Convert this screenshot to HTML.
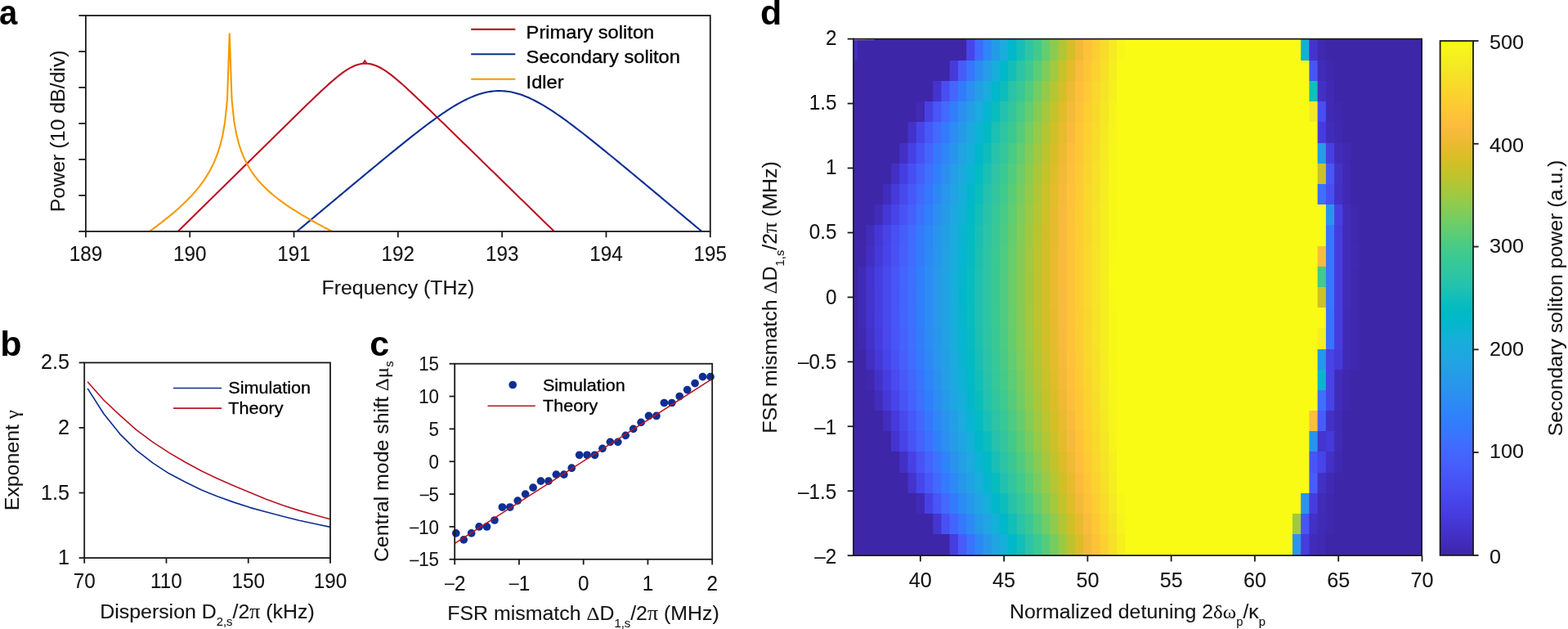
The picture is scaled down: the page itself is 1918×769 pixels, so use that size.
<!DOCTYPE html>
<html lang="en">
<head>
<meta charset="utf-8">
<title>Figure</title>
<style>
html,body{margin:0;padding:0;background:#fff;}
body{width:1918px;height:769px;overflow:hidden;}
svg{display:block;}
svg text{font-family:"Liberation Sans", "DejaVu Sans", sans-serif;fill:#141414;stroke:#141414;stroke-width:0.1px;}
</style>
</head>
<body>
<svg width="1918" height="769" viewBox="0 0 1918 769">
<rect width="1918" height="769" fill="#ffffff"/>
<text transform="translate(-1 29.6) scale(0.930 1)" font-size="43" text-anchor="start" font-weight="bold" style="stroke:none;fill:#000">a</text>
<text transform="translate(0.2 435.3) scale(1.000 1)" font-size="43" text-anchor="start" font-weight="bold" style="stroke:none;fill:#000">b</text>
<text transform="translate(452.3 435.3) scale(1.000 1)" font-size="43" text-anchor="start" font-weight="bold" style="stroke:none;fill:#000">c</text>
<text transform="translate(930 30) scale(1.000 1)" font-size="43" text-anchor="start" font-weight="bold" style="stroke:none;fill:#000">d</text>
<clipPath id="ca"><rect x="104.9" y="19" width="763.9" height="263.9"/></clipPath>
<g clip-path="url(#ca)">
<path d="M200 300.27 L202.8 297.52 L205.6 294.77 L208.4 292.01 L211.2 289.26 L214 286.51 L216.8 283.76 L219.6 281 L222.4 278.25 L225.2 275.5 L228 272.75 L230.8 269.99 L233.6 267.24 L236.4 264.49 L239.2 261.74 L242 258.98 L244.8 256.23 L247.6 253.48 L250.4 250.73 L253.2 247.98 L256 245.22 L258.8 242.47 L261.6 239.72 L264.4 236.97 L267.2 234.21 L270 231.46 L272.8 228.71 L275.6 225.96 L278.4 223.2 L281.2 220.45 L284 217.7 L286.8 214.95 L289.6 212.19 L292.4 209.44 L295.2 206.69 L298 203.94 L300.8 201.19 L303.6 198.43 L306.4 195.68 L309.2 192.93 L312 190.18 L314.8 187.43 L317.6 184.67 L320.4 181.92 L323.2 179.17 L326 176.42 L328.8 173.67 L331.6 170.92 L334.4 168.17 L337.2 165.42 L340 162.67 L342.8 159.92 L345.6 157.18 L348.4 154.43 L351.2 151.68 L354 148.94 L356.8 146.2 L359.6 143.46 L362.4 140.72 L365.2 137.99 L368 135.26 L370.8 132.54 L373.6 129.82 L376.4 127.11 L379.2 124.4 L382 121.71 L384.8 119.03 L387.6 116.37 L390.4 113.72 L393.2 111.09 L396 108.49 L398.8 105.93 L401.6 103.39 L404.4 100.91 L407.2 98.47 L410 96.1 L412.8 93.8 L415.6 91.58 L418.4 89.47 L421.2 87.47 L424 85.6 L426.8 83.89 L429.6 82.34 L432.4 80.98 L435.2 79.83 L438 78.9 L440.8 78.22 L443.6 77.78 L446.4 77.6 L449.2 77.69 L452 78.03 L454.8 78.62 L457.6 79.46 L460.4 80.52 L463.2 81.8 L466 83.27 L468.8 84.91 L471.6 86.71 L474.4 88.65 L477.2 90.71 L480 92.87 L482.8 95.12 L485.6 97.45 L488.4 99.85 L491.2 102.3 L494 104.79 L496.8 107.33 L499.6 109.9 L502.4 112.49 L505.2 115.11 L508 117.75 L510.8 120.4 L513.6 123.07 L516.4 125.75 L519.2 128.43 L522 131.13 L524.8 133.83 L527.6 136.53 L530.4 139.24 L533.2 141.95 L536 144.67 L538.8 147.39 L541.6 150.11 L544.4 152.83 L547.2 155.55 L550 158.28 L552.8 161 L555.6 163.73 L558.4 166.46 L561.2 169.19 L564 171.91 L566.8 174.64 L569.6 177.37 L572.4 180.1 L575.2 182.83 L578 185.56 L580.8 188.29 L583.6 191.02 L586.4 193.75 L589.2 196.48 L592 199.2 L594.8 201.93 L597.6 204.66 L600.4 207.39 L603.2 210.12 L606 212.85 L608.8 215.58 L611.6 218.31 L614.4 221.04 L617.2 223.77 L620 226.5 L622.8 229.23 L625.6 231.96 L628.4 234.69 L631.2 237.42 L634 240.15 L636.8 242.88 L639.6 245.61 L642.4 248.34 L645.2 251.07 L648 253.8 L650.8 256.53 L653.6 259.26 L656.4 261.99 L659.2 264.72 L662 267.45 L664.8 270.18 L667.6 272.91 L670.4 275.64 L673.2 278.37 L676 281.1 L678.8 283.83 L681.6 286.56 L684.4 289.29 L687.2 292.02 L690 294.75 L692.8 297.48 L695.6 300.21 L698.4 302.94" stroke="#b91424" stroke-width="2.1" fill="none" stroke-linecap="butt" />
<path d="M443.7 77.9 L446.3 74 L448.9 77.9" stroke="#b91424" stroke-width="1.8" fill="none" stroke-linecap="butt" stroke-linejoin="miter"/>
<path d="M340 302.38 L342.8 300.03 L345.6 297.69 L348.4 295.35 L351.2 293.01 L354 290.66 L356.8 288.32 L359.6 285.98 L362.4 283.64 L365.2 281.29 L368 278.95 L370.8 276.61 L373.6 274.27 L376.4 271.93 L379.2 269.58 L382 267.24 L384.8 264.9 L387.6 262.56 L390.4 260.22 L393.2 257.88 L396 255.54 L398.8 253.2 L401.6 250.86 L404.4 248.53 L407.2 246.19 L410 243.85 L412.8 241.51 L415.6 239.18 L418.4 236.84 L421.2 234.51 L424 232.17 L426.8 229.84 L429.6 227.51 L432.4 225.18 L435.2 222.85 L438 220.52 L440.8 218.19 L443.6 215.87 L446.4 213.55 L449.2 211.22 L452 208.9 L454.8 206.59 L457.6 204.27 L460.4 201.96 L463.2 199.65 L466 197.35 L468.8 195.05 L471.6 192.75 L474.4 190.46 L477.2 188.17 L480 185.89 L482.8 183.61 L485.6 181.34 L488.4 179.07 L491.2 176.82 L494 174.57 L496.8 172.33 L499.6 170.1 L502.4 167.88 L505.2 165.67 L508 163.48 L510.8 161.3 L513.6 159.13 L516.4 156.98 L519.2 154.85 L522 152.74 L524.8 150.65 L527.6 148.58 L530.4 146.54 L533.2 144.52 L536 142.53 L538.8 140.58 L541.6 138.66 L544.4 136.77 L547.2 134.92 L550 133.12 L552.8 131.36 L555.6 129.65 L558.4 127.99 L561.2 126.39 L564 124.85 L566.8 123.37 L569.6 121.95 L572.4 120.61 L575.2 119.34 L578 118.15 L580.8 117.04 L583.6 116.02 L586.4 115.08 L589.2 114.24 L592 113.49 L594.8 112.84 L597.6 112.29 L600.4 111.84 L603.2 111.5 L606 111.26 L608.8 111.13 L611.6 111.1 L614.4 111.19 L617.2 111.38 L620 111.68 L622.8 112.08 L625.6 112.59 L628.4 113.2 L631.2 113.9 L634 114.71 L636.8 115.6 L639.6 116.59 L642.4 117.66 L645.2 118.82 L648 120.06 L650.8 121.37 L653.6 122.75 L656.4 124.21 L659.2 125.72 L662 127.3 L664.8 128.94 L667.6 130.62 L670.4 132.36 L673.2 134.15 L676 135.97 L678.8 137.84 L681.6 139.75 L684.4 141.69 L687.2 143.67 L690 145.67 L692.8 147.7 L695.6 149.76 L698.4 151.84 L701.2 153.94 L704 156.07 L706.8 158.21 L709.6 160.37 L712.4 162.54 L715.2 164.73 L718 166.93 L720.8 169.15 L723.6 171.37 L726.4 173.61 L729.2 175.85 L732 178.11 L734.8 180.37 L737.6 182.63 L740.4 184.91 L743.2 187.19 L746 189.48 L748.8 191.77 L751.6 194.06 L754.4 196.36 L757.2 198.67 L760 200.97 L762.8 203.28 L765.6 205.6 L768.4 207.91 L771.2 210.23 L774 212.55 L776.8 214.87 L779.6 217.2 L782.4 219.52 L785.2 221.85 L788 224.18 L790.8 226.51 L793.6 228.84 L796.4 231.17 L799.2 233.51 L802 235.84 L804.8 238.18 L807.6 240.51 L810.4 242.85 L813.2 245.19 L816 247.52 L818.8 249.86 L821.6 252.2 L824.4 254.54 L827.2 256.88 L830 259.22 L832.8 261.56 L835.6 263.9 L838.4 266.24 L841.2 268.58 L844 270.92 L846.8 273.26 L849.6 275.61 L852.4 277.95 L855.2 280.29 L858 282.63 L860.8 284.97 L863.6 287.32 L866.4 289.66 L869.2 292 L872 294.34 L874.8 296.69 L877.6 299.03" stroke="#0d2f92" stroke-width="2.1" fill="none" stroke-linecap="butt" />
<path d="M177.16 287.04 L179.96 285.03 L182.76 283.01 L185.56 280.97 L188.36 278.9 L191.16 276.82 L193.96 274.7 L196.76 272.56 L199.56 270.39 L202.36 268.19 L205.16 265.94 L207.96 263.66 L210.76 261.33 L213.56 258.96 L216.36 256.53 L219.16 254.03 L221.96 251.48 L224.76 248.84 L227.56 246.12 L230.36 243.31 L233.16 240.4 L235.96 237.36 L238.76 234.18 L241.56 230.85 L244.36 227.33 L247.16 223.6 L249.96 219.62 L252.76 215.33 L255.56 210.67 L258.36 205.55 L261.16 199.84 L263.96 193.35 L266.76 185.81 L269.56 176.72 L272.36 165.19 L275.16 149.2 L277.96 122.43 L280.76 40.6 L283.56 122.03 L286.36 148.4 L289.16 163.98 L291.96 175.11 L294.76 183.79 L297.56 190.92 L300.36 197 L303.16 202.3 L305.96 207.01 L308.76 211.26 L311.56 215.13 L314.36 218.7 L317.16 222.01 L319.96 225.11 L322.76 228.02 L325.56 230.77 L328.36 233.39 L331.16 235.88 L333.96 238.27 L336.76 240.55 L339.56 242.76 L342.36 244.89 L345.16 246.95 L347.96 248.94 L350.76 250.89 L353.56 252.78 L356.36 254.62 L359.16 256.43 L361.96 258.19 L364.76 259.92 L367.56 261.62 L370.36 263.29 L373.16 264.93 L375.96 266.55 L378.76 268.14 L381.56 269.72 L384.36 271.27 L387.16 272.81 L389.96 274.33 L392.76 275.84 L395.56 277.33 L398.36 278.81 L401.16 280.28 L403.96 281.74 L406.76 283.19 L409.56 284.63" stroke="#f59a00" stroke-width="2.1" fill="none" stroke-linecap="butt" stroke-linejoin="bevel"/>
</g>
<rect x="104.9" y="19" width="763.9" height="263.9" fill="none" stroke="#1a1a1a" stroke-width="1.8"/>
<line x1="96.3" y1="19" x2="104.9" y2="19" stroke="#1a1a1a" stroke-width="1.8" />
<line x1="96.3" y1="62.98" x2="104.9" y2="62.98" stroke="#1a1a1a" stroke-width="1.8" />
<line x1="96.3" y1="106.97" x2="104.9" y2="106.97" stroke="#1a1a1a" stroke-width="1.8" />
<line x1="96.3" y1="150.95" x2="104.9" y2="150.95" stroke="#1a1a1a" stroke-width="1.8" />
<line x1="96.3" y1="194.93" x2="104.9" y2="194.93" stroke="#1a1a1a" stroke-width="1.8" />
<line x1="96.3" y1="238.92" x2="104.9" y2="238.92" stroke="#1a1a1a" stroke-width="1.8" />
<line x1="96.3" y1="282.9" x2="104.9" y2="282.9" stroke="#1a1a1a" stroke-width="1.8" />
<line x1="104.9" y1="282.9" x2="104.9" y2="290.2" stroke="#1a1a1a" stroke-width="1.8" />
<text transform="translate(104.9 319.1) scale(0.976 1)" font-size="24.9" text-anchor="middle" font-weight="normal" >189</text>
<line x1="232.22" y1="282.9" x2="232.22" y2="290.2" stroke="#1a1a1a" stroke-width="1.8" />
<text transform="translate(232.22 319.1) scale(0.976 1)" font-size="24.9" text-anchor="middle" font-weight="normal" >190</text>
<line x1="359.53" y1="282.9" x2="359.53" y2="290.2" stroke="#1a1a1a" stroke-width="1.8" />
<text transform="translate(359.53 319.1) scale(0.976 1)" font-size="24.9" text-anchor="middle" font-weight="normal" >191</text>
<line x1="486.85" y1="282.9" x2="486.85" y2="290.2" stroke="#1a1a1a" stroke-width="1.8" />
<text transform="translate(486.85 319.1) scale(0.976 1)" font-size="24.9" text-anchor="middle" font-weight="normal" >192</text>
<line x1="614.17" y1="282.9" x2="614.17" y2="290.2" stroke="#1a1a1a" stroke-width="1.8" />
<text transform="translate(614.17 319.1) scale(0.976 1)" font-size="24.9" text-anchor="middle" font-weight="normal" >193</text>
<line x1="741.48" y1="282.9" x2="741.48" y2="290.2" stroke="#1a1a1a" stroke-width="1.8" />
<text transform="translate(741.48 319.1) scale(0.976 1)" font-size="24.9" text-anchor="middle" font-weight="normal" >194</text>
<line x1="868.8" y1="282.9" x2="868.8" y2="290.2" stroke="#1a1a1a" stroke-width="1.8" />
<text transform="translate(868.8 319.1) scale(0.976 1)" font-size="24.9" text-anchor="middle" font-weight="normal" >195</text>
<text transform="translate(486.85 359.7) scale(1.060 1)" font-size="23.5" text-anchor="middle" font-weight="normal" >Frequency (THz)</text>
<text transform="translate(78.5 160.3) rotate(-90) scale(1.060 1)" font-size="23.5" text-anchor="middle" font-weight="normal" >Power (10 dB/div)</text>
<line x1="576.2" y1="35.9" x2="630.3" y2="35.9" stroke="#b91424" stroke-width="2.1" />
<text transform="translate(643.6 46.9) scale(1.113 1)" font-size="21.3" text-anchor="start" font-weight="normal" style="stroke-width:0.3px;fill:#000;stroke:#000">Primary soliton</text>
<line x1="576.2" y1="66.3" x2="630.3" y2="66.3" stroke="#0d2f92" stroke-width="2.1" />
<text transform="translate(643.6 77.3) scale(1.113 1)" font-size="21.3" text-anchor="start" font-weight="normal" style="stroke-width:0.3px;fill:#000;stroke:#000">Secondary soliton</text>
<line x1="576.2" y1="96.7" x2="630.3" y2="96.7" stroke="#f59a00" stroke-width="2.1" />
<text transform="translate(643.6 107.7) scale(1.113 1)" font-size="21.3" text-anchor="start" font-weight="normal" style="stroke-width:0.3px;fill:#000;stroke:#000">Idler</text>
<path d="M107.1 474.9 L127 505.98 L146.9 530.8 L166.8 550.31 L186.7 565.9 L206.6 578.84 L226.5 589.28 L246.4 598.95 L266.3 606.99 L286.2 614.13 L306.1 620.58 L326 626.02 L345.9 631.27 L365.8 636.25 L385.7 640.56 L404 644.4" stroke="#0d2f92" stroke-width="1.65" fill="none" stroke-linecap="butt" stroke-linejoin="round"/>
<path d="M107.1 466.8 L127 489.25 L146.9 507.9 L166.8 525.6 L186.7 540.4 L206.6 553.34 L226.5 565.01 L246.4 575.78 L266.3 585.33 L286.2 594.03 L306.1 602.29 L326 610.41 L345.9 617.82 L365.8 624.1 L385.7 629.68 L404 634.8" stroke="#b91424" stroke-width="1.65" fill="none" stroke-linecap="butt" stroke-linejoin="round"/>
<rect x="103.2" y="443.4" width="300.8" height="238.7" fill="none" stroke="#1a1a1a" stroke-width="1.8"/>
<line x1="96.6" y1="443.4" x2="103.2" y2="443.4" stroke="#1a1a1a" stroke-width="1.8" />
<text transform="translate(85 451.4) scale(1.013 1)" font-size="24.9" text-anchor="end" font-weight="normal" >2.5</text>
<line x1="96.6" y1="522.97" x2="103.2" y2="522.97" stroke="#1a1a1a" stroke-width="1.8" />
<text transform="translate(85 530.97) scale(1.013 1)" font-size="24.9" text-anchor="end" font-weight="normal" >2</text>
<line x1="96.6" y1="602.53" x2="103.2" y2="602.53" stroke="#1a1a1a" stroke-width="1.8" />
<text transform="translate(85 610.53) scale(1.013 1)" font-size="24.9" text-anchor="end" font-weight="normal" >1.5</text>
<line x1="96.6" y1="682.1" x2="103.2" y2="682.1" stroke="#1a1a1a" stroke-width="1.8" />
<text transform="translate(85 690.1) scale(1.013 1)" font-size="24.9" text-anchor="end" font-weight="normal" >1</text>
<line x1="103.2" y1="682.1" x2="103.2" y2="688.7" stroke="#1a1a1a" stroke-width="1.8" />
<text transform="translate(103.2 718.6) scale(0.976 1)" font-size="24.9" text-anchor="middle" font-weight="normal" >70</text>
<line x1="203.47" y1="682.1" x2="203.47" y2="688.7" stroke="#1a1a1a" stroke-width="1.8" />
<text transform="translate(203.47 718.6) scale(0.976 1)" font-size="24.9" text-anchor="middle" font-weight="normal" >110</text>
<line x1="303.73" y1="682.1" x2="303.73" y2="688.7" stroke="#1a1a1a" stroke-width="1.8" />
<text transform="translate(303.73 718.6) scale(0.976 1)" font-size="24.9" text-anchor="middle" font-weight="normal" >150</text>
<line x1="404" y1="682.1" x2="404" y2="688.7" stroke="#1a1a1a" stroke-width="1.8" />
<text transform="translate(404 718.6) scale(0.976 1)" font-size="24.9" text-anchor="middle" font-weight="normal" >190</text>
<text transform="translate(253.5 755.8) scale(1.060 1)" font-size="23.5" text-anchor="middle" font-weight="normal" >Dispersion D<tspan font-size="14" dy="9">2,s</tspan><tspan dy="-9" font-size="1">&#8203;</tspan>/2<tspan font-family='&quot;Liberation Serif&quot;, &quot;DejaVu Serif&quot;, serif' font-size="24.5" >&#960;</tspan> (kHz)</text>
<text transform="translate(23 562.75) rotate(-90) scale(1.060 1)" font-size="23.5" text-anchor="middle" font-weight="normal" >Exponent <tspan font-family='&quot;Liberation Serif&quot;, &quot;DejaVu Serif&quot;, serif' font-size="23.5" >&#947;</tspan></text>
<line x1="212" y1="474.5" x2="271.1" y2="474.5" stroke="#0d2f92" stroke-width="1.65" />
<text transform="translate(279.3 481.4) scale(1.080 1)" font-size="20" text-anchor="start" font-weight="normal" style="stroke-width:0.3px;fill:#000;stroke:#000">Simulation</text>
<line x1="212" y1="499.1" x2="271.1" y2="499.1" stroke="#b91424" stroke-width="1.65" />
<text transform="translate(279.3 506) scale(1.080 1)" font-size="20" text-anchor="start" font-weight="normal" style="stroke-width:0.3px;fill:#000;stroke:#000">Theory</text>
<circle cx="557.8" cy="651.92" r="4.85" fill="#0d2f92"/>
<circle cx="567.23" cy="659.89" r="4.85" fill="#0d2f92"/>
<circle cx="576.66" cy="651.92" r="4.85" fill="#0d2f92"/>
<circle cx="586.09" cy="643.95" r="4.85" fill="#0d2f92"/>
<circle cx="595.52" cy="643.95" r="4.85" fill="#0d2f92"/>
<circle cx="604.95" cy="635.98" r="4.85" fill="#0d2f92"/>
<circle cx="614.38" cy="620.04" r="4.85" fill="#0d2f92"/>
<circle cx="623.81" cy="620.04" r="4.85" fill="#0d2f92"/>
<circle cx="633.24" cy="612.07" r="4.85" fill="#0d2f92"/>
<circle cx="642.67" cy="604.1" r="4.85" fill="#0d2f92"/>
<circle cx="652.1" cy="596.13" r="4.85" fill="#0d2f92"/>
<circle cx="661.53" cy="588.16" r="4.85" fill="#0d2f92"/>
<circle cx="670.96" cy="588.16" r="4.85" fill="#0d2f92"/>
<circle cx="680.39" cy="580.19" r="4.85" fill="#0d2f92"/>
<circle cx="689.82" cy="580.19" r="4.85" fill="#0d2f92"/>
<circle cx="699.25" cy="572.22" r="4.85" fill="#0d2f92"/>
<circle cx="708.68" cy="556.28" r="4.85" fill="#0d2f92"/>
<circle cx="718.11" cy="556.28" r="4.85" fill="#0d2f92"/>
<circle cx="727.54" cy="556.28" r="4.85" fill="#0d2f92"/>
<circle cx="736.97" cy="548.31" r="4.85" fill="#0d2f92"/>
<circle cx="746.4" cy="540.34" r="4.85" fill="#0d2f92"/>
<circle cx="755.83" cy="540.34" r="4.85" fill="#0d2f92"/>
<circle cx="765.26" cy="532.37" r="4.85" fill="#0d2f92"/>
<circle cx="774.69" cy="524.4" r="4.85" fill="#0d2f92"/>
<circle cx="784.12" cy="516.43" r="4.85" fill="#0d2f92"/>
<circle cx="793.55" cy="508.46" r="4.85" fill="#0d2f92"/>
<circle cx="802.98" cy="508.46" r="4.85" fill="#0d2f92"/>
<circle cx="812.41" cy="492.52" r="4.85" fill="#0d2f92"/>
<circle cx="821.84" cy="492.52" r="4.85" fill="#0d2f92"/>
<circle cx="831.27" cy="484.55" r="4.85" fill="#0d2f92"/>
<circle cx="840.7" cy="476.58" r="4.85" fill="#0d2f92"/>
<circle cx="850.13" cy="468.61" r="4.85" fill="#0d2f92"/>
<circle cx="859.56" cy="460.64" r="4.85" fill="#0d2f92"/>
<circle cx="868.99" cy="460.64" r="4.85" fill="#0d2f92"/>
<line x1="556.2" y1="664.35" x2="871.2" y2="463.19" stroke="#b91424" stroke-width="1.6" />
<rect x="556.2" y="444.7" width="315" height="239.1" fill="none" stroke="#1a1a1a" stroke-width="1.8"/>
<line x1="549.6" y1="444.7" x2="556.2" y2="444.7" stroke="#1a1a1a" stroke-width="1.8" />
<text transform="translate(537 453.3) scale(0.955 1)" font-size="23.4" text-anchor="end" font-weight="normal" >15</text>
<line x1="549.6" y1="484.55" x2="556.2" y2="484.55" stroke="#1a1a1a" stroke-width="1.8" />
<text transform="translate(537 493.15) scale(0.955 1)" font-size="23.4" text-anchor="end" font-weight="normal" >10</text>
<line x1="549.6" y1="524.4" x2="556.2" y2="524.4" stroke="#1a1a1a" stroke-width="1.8" />
<text transform="translate(537 533) scale(0.955 1)" font-size="23.4" text-anchor="end" font-weight="normal" >5</text>
<line x1="549.6" y1="564.25" x2="556.2" y2="564.25" stroke="#1a1a1a" stroke-width="1.8" />
<text transform="translate(537 572.85) scale(0.955 1)" font-size="23.4" text-anchor="end" font-weight="normal" >0</text>
<line x1="549.6" y1="604.1" x2="556.2" y2="604.1" stroke="#1a1a1a" stroke-width="1.8" />
<text transform="translate(537 612.7) scale(0.955 1)" font-size="23.4" text-anchor="end" font-weight="normal" ><tspan font-size="20.59" dy="-1.4">&#8211;</tspan><tspan dy="1.4">5</tspan></text>
<line x1="549.6" y1="643.95" x2="556.2" y2="643.95" stroke="#1a1a1a" stroke-width="1.8" />
<text transform="translate(537 652.55) scale(0.955 1)" font-size="23.4" text-anchor="end" font-weight="normal" ><tspan font-size="20.59" dy="-1.4">&#8211;</tspan><tspan dy="1.4">10</tspan></text>
<line x1="549.6" y1="683.8" x2="556.2" y2="683.8" stroke="#1a1a1a" stroke-width="1.8" />
<text transform="translate(537 692.4) scale(0.955 1)" font-size="23.4" text-anchor="end" font-weight="normal" ><tspan font-size="20.59" dy="-1.4">&#8211;</tspan><tspan dy="1.4">15</tspan></text>
<line x1="556.2" y1="683.8" x2="556.2" y2="690.4" stroke="#1a1a1a" stroke-width="1.8" />
<text transform="translate(556.8 721.6) scale(0.976 1)" font-size="24.9" text-anchor="middle" font-weight="normal" ><tspan font-size="21.91" dy="-1.4">&#8211;</tspan><tspan dy="1.4">2</tspan></text>
<line x1="634.95" y1="683.8" x2="634.95" y2="690.4" stroke="#1a1a1a" stroke-width="1.8" />
<text transform="translate(635.55 721.6) scale(0.976 1)" font-size="24.9" text-anchor="middle" font-weight="normal" ><tspan font-size="21.91" dy="-1.4">&#8211;</tspan><tspan dy="1.4">1</tspan></text>
<line x1="713.7" y1="683.8" x2="713.7" y2="690.4" stroke="#1a1a1a" stroke-width="1.8" />
<text transform="translate(713.7 721.6) scale(0.976 1)" font-size="24.9" text-anchor="middle" font-weight="normal" >0</text>
<line x1="792.45" y1="683.8" x2="792.45" y2="690.4" stroke="#1a1a1a" stroke-width="1.8" />
<text transform="translate(792.45 721.6) scale(0.976 1)" font-size="24.9" text-anchor="middle" font-weight="normal" >1</text>
<line x1="871.2" y1="683.8" x2="871.2" y2="690.4" stroke="#1a1a1a" stroke-width="1.8" />
<text transform="translate(871.2 721.6) scale(0.976 1)" font-size="24.9" text-anchor="middle" font-weight="normal" >2</text>
<text transform="translate(713.5 757.5) scale(1.060 1)" font-size="23.5" text-anchor="middle" font-weight="normal" >FSR mismatch <tspan font-family='&quot;Liberation Serif&quot;, &quot;DejaVu Serif&quot;, serif' font-size="23.5" >&#916;</tspan>D<tspan font-size="14" dy="9">1,s</tspan><tspan dy="-9" font-size="1">&#8203;</tspan>/2<tspan font-family='&quot;Liberation Serif&quot;, &quot;DejaVu Serif&quot;, serif' font-size="24.5" >&#960;</tspan> (MHz)</text>
<text transform="translate(474.5 564.25) rotate(-90) scale(1.060 1)" font-size="23.5" text-anchor="middle" font-weight="normal" >Central mode shift <tspan font-family='&quot;Liberation Serif&quot;, &quot;DejaVu Serif&quot;, serif' font-size="23.5" >&#916;&#956;</tspan><tspan font-size="14" dy="6">s</tspan><tspan dy="-6" font-size="1">&#8203;</tspan></text>
<circle cx="627.2" cy="470.5" r="4.85" fill="#0d2f92"/>
<text transform="translate(663.9 477.6) scale(1.080 1)" font-size="20" text-anchor="start" font-weight="normal" style="stroke-width:0.3px;fill:#000;stroke:#000">Simulation</text>
<line x1="596.5" y1="496.2" x2="654.8" y2="496.2" stroke="#b91424" stroke-width="1.6" />
<text transform="translate(664.1 502.8) scale(1.080 1)" font-size="20" text-anchor="start" font-weight="normal" style="stroke-width:0.3px;fill:#000;stroke:#000">Theory</text>
<g>
<rect x="1044" y="47.6" width="695.5" height="631.6" fill="#3e26a8"/>
<rect x="1044" y="47" width="695.5" height="27" fill="#422fc1"/>
<rect x="1049.11" y="47" width="690.39" height="27" fill="#3e26a8"/>
<rect x="1182.08" y="47" width="557.42" height="27" fill="#4744e9"/>
<rect x="1192.31" y="47" width="547.19" height="27" fill="#4269fe"/>
<rect x="1202.53" y="47" width="536.97" height="27" fill="#2e86f8"/>
<rect x="1212.76" y="47" width="526.74" height="27" fill="#259be8"/>
<rect x="1222.99" y="47" width="516.51" height="27" fill="#1aacdd"/>
<rect x="1233.22" y="47" width="506.28" height="27" fill="#01b8ca"/>
<rect x="1243.44" y="47" width="496.06" height="27" fill="#15bfb7"/>
<rect x="1253.67" y="47" width="485.83" height="27" fill="#2fc5a3"/>
<rect x="1263.9" y="47" width="475.6" height="27" fill="#42ca8c"/>
<rect x="1274.13" y="47" width="465.37" height="27" fill="#64cd6f"/>
<rect x="1284.36" y="47" width="455.14" height="27" fill="#8ccb50"/>
<rect x="1294.58" y="47" width="444.92" height="27" fill="#b2c635"/>
<rect x="1304.81" y="47" width="434.69" height="27" fill="#d4bf28"/>
<rect x="1315.04" y="47" width="424.46" height="27" fill="#f0ba36"/>
<rect x="1325.27" y="47" width="414.23" height="27" fill="#fec13a"/>
<rect x="1335.5" y="47" width="404" height="27" fill="#fdce31"/>
<rect x="1345.72" y="47" width="393.78" height="27" fill="#f7dc2a"/>
<rect x="1355.95" y="47" width="383.55" height="27" fill="#f5ea24"/>
<rect x="1366.18" y="47" width="373.32" height="27" fill="#f8f719"/>
<rect x="1376.41" y="47" width="363.09" height="27" fill="#f9fb15"/>
<rect x="1591.19" y="47" width="148.31" height="27" fill="#11b1d6"/>
<rect x="1601.42" y="47" width="138.08" height="27" fill="#4433cc"/>
<rect x="1611.65" y="47" width="127.85" height="27" fill="#3f29b1"/>
<rect x="1621.88" y="47" width="117.62" height="27" fill="#3e26a8"/>
<rect x="1161.62" y="74" width="577.88" height="25" fill="#463adb"/>
<rect x="1171.85" y="74" width="567.65" height="25" fill="#475bf9"/>
<rect x="1182.08" y="74" width="557.42" height="25" fill="#3875fe"/>
<rect x="1192.31" y="74" width="547.19" height="25" fill="#2d8cf3"/>
<rect x="1202.53" y="74" width="536.97" height="25" fill="#249ee6"/>
<rect x="1212.76" y="74" width="526.74" height="25" fill="#19addc"/>
<rect x="1222.99" y="74" width="516.51" height="25" fill="#01b8ca"/>
<rect x="1233.22" y="74" width="506.28" height="25" fill="#13beb8"/>
<rect x="1243.44" y="74" width="496.06" height="25" fill="#2dc4a6"/>
<rect x="1253.67" y="74" width="485.83" height="25" fill="#3dc990"/>
<rect x="1263.9" y="74" width="475.6" height="25" fill="#5bcc77"/>
<rect x="1274.13" y="74" width="465.37" height="25" fill="#7fcc5a"/>
<rect x="1284.36" y="74" width="455.14" height="25" fill="#a4c83e"/>
<rect x="1294.58" y="74" width="444.92" height="25" fill="#c6c22a"/>
<rect x="1304.81" y="74" width="434.69" height="25" fill="#e2bc2b"/>
<rect x="1315.04" y="74" width="424.46" height="25" fill="#f9bb3d"/>
<rect x="1325.27" y="74" width="414.23" height="25" fill="#fec636"/>
<rect x="1335.5" y="74" width="404" height="25" fill="#fbd32f"/>
<rect x="1345.72" y="74" width="393.78" height="25" fill="#f6e028"/>
<rect x="1355.95" y="74" width="383.55" height="25" fill="#f5ee21"/>
<rect x="1366.18" y="74" width="373.32" height="25" fill="#f9fb15"/>
<rect x="1601.42" y="74" width="138.08" height="25" fill="#4755f6"/>
<rect x="1611.65" y="74" width="127.85" height="25" fill="#412cba"/>
<rect x="1621.88" y="74" width="117.62" height="25" fill="#3f28ae"/>
<rect x="1632.11" y="74" width="107.39" height="25" fill="#3e26a8"/>
<rect x="1141.17" y="99" width="598.33" height="25" fill="#4434ce"/>
<rect x="1151.39" y="99" width="588.11" height="25" fill="#484ff2"/>
<rect x="1161.62" y="99" width="577.88" height="25" fill="#4466fd"/>
<rect x="1171.85" y="99" width="567.65" height="25" fill="#327cfc"/>
<rect x="1182.08" y="99" width="557.42" height="25" fill="#2c8ff1"/>
<rect x="1192.31" y="99" width="547.19" height="25" fill="#249fe6"/>
<rect x="1202.53" y="99" width="536.97" height="25" fill="#19addc"/>
<rect x="1212.76" y="99" width="526.74" height="25" fill="#03b7cc"/>
<rect x="1222.99" y="99" width="516.51" height="25" fill="#0ebdbb"/>
<rect x="1233.22" y="99" width="506.28" height="25" fill="#29c3aa"/>
<rect x="1243.44" y="99" width="496.06" height="25" fill="#38c896"/>
<rect x="1253.67" y="99" width="485.83" height="25" fill="#51cc7f"/>
<rect x="1263.9" y="99" width="475.6" height="25" fill="#71cd64"/>
<rect x="1274.13" y="99" width="465.37" height="25" fill="#95ca49"/>
<rect x="1284.36" y="99" width="455.14" height="25" fill="#b6c532"/>
<rect x="1294.58" y="99" width="444.92" height="25" fill="#d4bf28"/>
<rect x="1304.81" y="99" width="434.69" height="25" fill="#edba33"/>
<rect x="1315.04" y="99" width="424.46" height="25" fill="#febe3c"/>
<rect x="1325.27" y="99" width="414.23" height="25" fill="#feca33"/>
<rect x="1335.5" y="99" width="404" height="25" fill="#f9d72d"/>
<rect x="1345.72" y="99" width="393.78" height="25" fill="#f5e427"/>
<rect x="1355.95" y="99" width="383.55" height="25" fill="#f6f01f"/>
<rect x="1366.18" y="99" width="373.32" height="25" fill="#f9fb15"/>
<rect x="1601.42" y="99" width="138.08" height="25" fill="#12beb9"/>
<rect x="1611.65" y="99" width="127.85" height="25" fill="#4330c5"/>
<rect x="1621.88" y="99" width="117.62" height="25" fill="#402ab5"/>
<rect x="1632.11" y="99" width="107.39" height="25" fill="#3e26a8"/>
<rect x="1120.71" y="124" width="618.79" height="25" fill="#402ab3"/>
<rect x="1130.94" y="124" width="608.56" height="25" fill="#4740e3"/>
<rect x="1141.17" y="124" width="598.33" height="25" fill="#4756f6"/>
<rect x="1151.39" y="124" width="588.11" height="25" fill="#426afe"/>
<rect x="1161.62" y="124" width="577.88" height="25" fill="#317efb"/>
<rect x="1171.85" y="124" width="567.65" height="25" fill="#2c8ff1"/>
<rect x="1182.08" y="124" width="557.42" height="25" fill="#249ee6"/>
<rect x="1192.31" y="124" width="547.19" height="25" fill="#1babde"/>
<rect x="1202.53" y="124" width="536.97" height="25" fill="#06b5cf"/>
<rect x="1212.76" y="124" width="526.74" height="25" fill="#08bcbf"/>
<rect x="1222.99" y="124" width="516.51" height="25" fill="#24c1af"/>
<rect x="1233.22" y="124" width="506.28" height="25" fill="#33c69d"/>
<rect x="1243.44" y="124" width="496.06" height="25" fill="#46cb88"/>
<rect x="1253.67" y="124" width="485.83" height="25" fill="#63cd70"/>
<rect x="1263.9" y="124" width="475.6" height="25" fill="#85cb56"/>
<rect x="1274.13" y="124" width="465.37" height="25" fill="#a6c83d"/>
<rect x="1284.36" y="124" width="455.14" height="25" fill="#c4c22a"/>
<rect x="1294.58" y="124" width="444.92" height="25" fill="#dfbc2a"/>
<rect x="1304.81" y="124" width="434.69" height="25" fill="#f4ba3a"/>
<rect x="1315.04" y="124" width="424.46" height="25" fill="#fec239"/>
<rect x="1325.27" y="124" width="414.23" height="25" fill="#fdce31"/>
<rect x="1335.5" y="124" width="404" height="25" fill="#f8da2b"/>
<rect x="1345.72" y="124" width="393.78" height="25" fill="#f5e725"/>
<rect x="1355.95" y="124" width="383.55" height="25" fill="#f7f31d"/>
<rect x="1366.18" y="124" width="373.32" height="25" fill="#f9fb15"/>
<rect x="1601.42" y="124" width="138.08" height="25" fill="#f5e825"/>
<rect x="1611.65" y="124" width="127.85" height="25" fill="#484ef1"/>
<rect x="1621.88" y="124" width="117.62" height="25" fill="#402ab5"/>
<rect x="1632.11" y="124" width="107.39" height="25" fill="#3f28ae"/>
<rect x="1642.33" y="124" width="97.17" height="25" fill="#3e26a8"/>
<rect x="1110.48" y="149" width="629.02" height="26" fill="#4332c9"/>
<rect x="1120.71" y="149" width="618.79" height="26" fill="#4745e9"/>
<rect x="1130.94" y="149" width="608.56" height="26" fill="#4758f8"/>
<rect x="1141.17" y="149" width="598.33" height="26" fill="#426afe"/>
<rect x="1151.39" y="149" width="588.11" height="26" fill="#327cfc"/>
<rect x="1161.62" y="149" width="577.88" height="26" fill="#2d8cf3"/>
<rect x="1171.85" y="149" width="567.65" height="26" fill="#259be8"/>
<rect x="1182.08" y="149" width="557.42" height="26" fill="#1da8e0"/>
<rect x="1192.31" y="149" width="547.19" height="26" fill="#0db3d4"/>
<rect x="1202.53" y="149" width="536.97" height="26" fill="#02bac4"/>
<rect x="1212.76" y="149" width="526.74" height="26" fill="#1ac0b4"/>
<rect x="1222.99" y="149" width="516.51" height="26" fill="#2ec4a4"/>
<rect x="1233.22" y="149" width="506.28" height="26" fill="#3cc991"/>
<rect x="1243.44" y="149" width="496.06" height="26" fill="#55cc7b"/>
<rect x="1253.67" y="149" width="485.83" height="26" fill="#73cd63"/>
<rect x="1263.9" y="149" width="475.6" height="26" fill="#94ca4a"/>
<rect x="1274.13" y="149" width="465.37" height="26" fill="#b3c534"/>
<rect x="1284.36" y="149" width="455.14" height="26" fill="#cfc028"/>
<rect x="1294.58" y="149" width="444.92" height="26" fill="#e7bb2e"/>
<rect x="1304.81" y="149" width="434.69" height="26" fill="#fabb3d"/>
<rect x="1315.04" y="149" width="424.46" height="26" fill="#fec537"/>
<rect x="1325.27" y="149" width="414.23" height="26" fill="#fcd130"/>
<rect x="1335.5" y="149" width="404" height="26" fill="#f7dd2a"/>
<rect x="1345.72" y="149" width="393.78" height="26" fill="#f5e924"/>
<rect x="1355.95" y="149" width="383.55" height="26" fill="#f7f51c"/>
<rect x="1366.18" y="149" width="373.32" height="26" fill="#f9fb15"/>
<rect x="1611.65" y="149" width="127.85" height="26" fill="#463cde"/>
<rect x="1621.88" y="149" width="117.62" height="26" fill="#412cba"/>
<rect x="1632.11" y="149" width="107.39" height="26" fill="#3f29b0"/>
<rect x="1642.33" y="149" width="97.17" height="26" fill="#3e26a8"/>
<rect x="1100.25" y="175" width="639.25" height="25" fill="#4230c4"/>
<rect x="1110.48" y="175" width="629.02" height="25" fill="#4740e4"/>
<rect x="1120.71" y="175" width="618.79" height="25" fill="#4852f4"/>
<rect x="1130.94" y="175" width="608.56" height="25" fill="#4564fd"/>
<rect x="1141.17" y="175" width="598.33" height="25" fill="#3876fe"/>
<rect x="1151.39" y="175" width="588.11" height="25" fill="#2e86f7"/>
<rect x="1161.62" y="175" width="577.88" height="25" fill="#2895ec"/>
<rect x="1171.85" y="175" width="567.65" height="25" fill="#21a3e4"/>
<rect x="1182.08" y="175" width="557.42" height="25" fill="#16afda"/>
<rect x="1192.31" y="175" width="547.19" height="25" fill="#01b8ca"/>
<rect x="1202.53" y="175" width="536.97" height="25" fill="#0ebdbb"/>
<rect x="1212.76" y="175" width="526.74" height="25" fill="#27c2ac"/>
<rect x="1222.99" y="175" width="516.51" height="25" fill="#34c79b"/>
<rect x="1233.22" y="175" width="506.28" height="25" fill="#47cb87"/>
<rect x="1243.44" y="175" width="496.06" height="25" fill="#62cd71"/>
<rect x="1253.67" y="175" width="485.83" height="25" fill="#81cc58"/>
<rect x="1263.9" y="175" width="475.6" height="25" fill="#a0c841"/>
<rect x="1274.13" y="175" width="465.37" height="25" fill="#bdc32e"/>
<rect x="1284.36" y="175" width="455.14" height="25" fill="#d7be28"/>
<rect x="1294.58" y="175" width="444.92" height="25" fill="#edba33"/>
<rect x="1304.81" y="175" width="434.69" height="25" fill="#fdbd3d"/>
<rect x="1315.04" y="175" width="424.46" height="25" fill="#fec735"/>
<rect x="1325.27" y="175" width="414.23" height="25" fill="#fbd32e"/>
<rect x="1335.5" y="175" width="404" height="25" fill="#f6df29"/>
<rect x="1345.72" y="175" width="393.78" height="25" fill="#f5eb23"/>
<rect x="1355.95" y="175" width="383.55" height="25" fill="#f7f61a"/>
<rect x="1366.18" y="175" width="373.32" height="25" fill="#f9fb15"/>
<rect x="1611.65" y="175" width="127.85" height="25" fill="#259ce7"/>
<rect x="1621.88" y="175" width="117.62" height="25" fill="#473fe3"/>
<rect x="1632.11" y="175" width="107.39" height="25" fill="#412cba"/>
<rect x="1642.33" y="175" width="97.17" height="25" fill="#3f29b1"/>
<rect x="1652.56" y="175" width="86.94" height="25" fill="#3e26a8"/>
<rect x="1090.03" y="200" width="649.47" height="25" fill="#4230c4"/>
<rect x="1100.25" y="200" width="639.25" height="25" fill="#463ee1"/>
<rect x="1110.48" y="200" width="629.02" height="25" fill="#484ff2"/>
<rect x="1120.71" y="200" width="618.79" height="25" fill="#465ffb"/>
<rect x="1130.94" y="200" width="608.56" height="25" fill="#3e6fff"/>
<rect x="1141.17" y="200" width="598.33" height="25" fill="#2f80fa"/>
<rect x="1151.39" y="200" width="588.11" height="25" fill="#2c8ff0"/>
<rect x="1161.62" y="200" width="577.88" height="25" fill="#259de7"/>
<rect x="1171.85" y="200" width="567.65" height="25" fill="#1ca9df"/>
<rect x="1182.08" y="200" width="557.42" height="25" fill="#0ab4d2"/>
<rect x="1192.31" y="200" width="547.19" height="25" fill="#03bbc3"/>
<rect x="1202.53" y="200" width="536.97" height="25" fill="#1bc0b4"/>
<rect x="1212.76" y="200" width="526.74" height="25" fill="#2ec4a5"/>
<rect x="1222.99" y="200" width="516.51" height="25" fill="#3bc993"/>
<rect x="1233.22" y="200" width="506.28" height="25" fill="#51cc7f"/>
<rect x="1243.44" y="200" width="496.06" height="25" fill="#6dcd68"/>
<rect x="1253.67" y="200" width="485.83" height="25" fill="#8ccb50"/>
<rect x="1263.9" y="200" width="475.6" height="25" fill="#aac73a"/>
<rect x="1274.13" y="200" width="465.37" height="25" fill="#c5c22a"/>
<rect x="1284.36" y="200" width="455.14" height="25" fill="#ddbd29"/>
<rect x="1294.58" y="200" width="444.92" height="25" fill="#f1ba37"/>
<rect x="1304.81" y="200" width="434.69" height="25" fill="#febf3b"/>
<rect x="1315.04" y="200" width="424.46" height="25" fill="#feca34"/>
<rect x="1325.27" y="200" width="414.23" height="25" fill="#fad52d"/>
<rect x="1335.5" y="200" width="404" height="25" fill="#f6e128"/>
<rect x="1345.72" y="200" width="393.78" height="25" fill="#f5ec22"/>
<rect x="1355.95" y="200" width="383.55" height="25" fill="#f8f719"/>
<rect x="1366.18" y="200" width="373.32" height="25" fill="#f9fb15"/>
<rect x="1611.65" y="200" width="127.85" height="25" fill="#c8c129"/>
<rect x="1621.88" y="200" width="117.62" height="25" fill="#4757f7"/>
<rect x="1632.11" y="200" width="107.39" height="25" fill="#4332c8"/>
<rect x="1642.33" y="200" width="97.17" height="25" fill="#402ab3"/>
<rect x="1652.56" y="200" width="86.94" height="25" fill="#3e26a8"/>
<rect x="1079.8" y="225" width="659.7" height="25" fill="#412dbd"/>
<rect x="1090.03" y="225" width="649.47" height="25" fill="#463ada"/>
<rect x="1100.25" y="225" width="639.25" height="25" fill="#4849ed"/>
<rect x="1110.48" y="225" width="629.02" height="25" fill="#4758f8"/>
<rect x="1120.71" y="225" width="618.79" height="25" fill="#4368fe"/>
<rect x="1130.94" y="225" width="608.56" height="25" fill="#3578fd"/>
<rect x="1141.17" y="225" width="598.33" height="25" fill="#2d88f6"/>
<rect x="1151.39" y="225" width="588.11" height="25" fill="#2896ec"/>
<rect x="1161.62" y="225" width="577.88" height="25" fill="#21a3e4"/>
<rect x="1171.85" y="225" width="567.65" height="25" fill="#17aeda"/>
<rect x="1182.08" y="225" width="557.42" height="25" fill="#02b7cb"/>
<rect x="1192.31" y="225" width="547.19" height="25" fill="#0bbdbd"/>
<rect x="1202.53" y="225" width="536.97" height="25" fill="#24c1ae"/>
<rect x="1212.76" y="225" width="526.74" height="25" fill="#32c69f"/>
<rect x="1222.99" y="225" width="516.51" height="25" fill="#41ca8d"/>
<rect x="1233.22" y="225" width="506.28" height="25" fill="#5acc78"/>
<rect x="1243.44" y="225" width="496.06" height="25" fill="#76cc61"/>
<rect x="1253.67" y="225" width="485.83" height="25" fill="#94ca4a"/>
<rect x="1263.9" y="225" width="475.6" height="25" fill="#b1c636"/>
<rect x="1274.13" y="225" width="465.37" height="25" fill="#cbc129"/>
<rect x="1284.36" y="225" width="455.14" height="25" fill="#e2bc2b"/>
<rect x="1294.58" y="225" width="444.92" height="25" fill="#f5ba3a"/>
<rect x="1304.81" y="225" width="434.69" height="25" fill="#fec13a"/>
<rect x="1315.04" y="225" width="424.46" height="25" fill="#fdcb33"/>
<rect x="1325.27" y="225" width="414.23" height="25" fill="#f9d72d"/>
<rect x="1335.5" y="225" width="404" height="25" fill="#f5e227"/>
<rect x="1345.72" y="225" width="393.78" height="25" fill="#f5ed22"/>
<rect x="1355.95" y="225" width="383.55" height="25" fill="#f8f818"/>
<rect x="1366.18" y="225" width="373.32" height="25" fill="#f9fb15"/>
<rect x="1611.65" y="225" width="127.85" height="25" fill="#3e70ff"/>
<rect x="1621.88" y="225" width="117.62" height="25" fill="#484ef1"/>
<rect x="1632.11" y="225" width="107.39" height="25" fill="#4330c5"/>
<rect x="1642.33" y="225" width="97.17" height="25" fill="#402ab5"/>
<rect x="1652.56" y="225" width="86.94" height="25" fill="#3e26a8"/>
<rect x="1069.57" y="250" width="669.93" height="25" fill="#412cba"/>
<rect x="1079.8" y="250" width="659.7" height="25" fill="#4537d6"/>
<rect x="1090.03" y="250" width="649.47" height="25" fill="#4745e9"/>
<rect x="1100.25" y="250" width="639.25" height="25" fill="#4853f5"/>
<rect x="1110.48" y="250" width="629.02" height="25" fill="#4561fc"/>
<rect x="1120.71" y="250" width="618.79" height="25" fill="#3d71ff"/>
<rect x="1130.94" y="250" width="608.56" height="25" fill="#2f80fa"/>
<rect x="1141.17" y="250" width="598.33" height="25" fill="#2c8ef1"/>
<rect x="1151.39" y="250" width="588.11" height="25" fill="#259be8"/>
<rect x="1161.62" y="250" width="577.88" height="25" fill="#1ea7e1"/>
<rect x="1171.85" y="250" width="567.65" height="25" fill="#10b2d5"/>
<rect x="1182.08" y="250" width="557.42" height="25" fill="#01b9c6"/>
<rect x="1192.31" y="250" width="547.19" height="25" fill="#13beb8"/>
<rect x="1202.53" y="250" width="536.97" height="25" fill="#29c3aa"/>
<rect x="1212.76" y="250" width="526.74" height="25" fill="#35c79a"/>
<rect x="1222.99" y="250" width="516.51" height="25" fill="#47cb87"/>
<rect x="1233.22" y="250" width="506.28" height="25" fill="#60cd72"/>
<rect x="1243.44" y="250" width="496.06" height="25" fill="#7dcc5c"/>
<rect x="1253.67" y="250" width="485.83" height="25" fill="#9ac945"/>
<rect x="1263.9" y="250" width="475.6" height="25" fill="#b6c532"/>
<rect x="1274.13" y="250" width="465.37" height="25" fill="#cfc028"/>
<rect x="1284.36" y="250" width="455.14" height="25" fill="#e5bb2d"/>
<rect x="1294.58" y="250" width="444.92" height="25" fill="#f7ba3c"/>
<rect x="1304.81" y="250" width="434.69" height="25" fill="#fec239"/>
<rect x="1315.04" y="250" width="424.46" height="25" fill="#fdcc32"/>
<rect x="1325.27" y="250" width="414.23" height="25" fill="#f9d82c"/>
<rect x="1335.5" y="250" width="404" height="25" fill="#f5e327"/>
<rect x="1345.72" y="250" width="393.78" height="25" fill="#f5ee21"/>
<rect x="1355.95" y="250" width="383.55" height="25" fill="#f8f818"/>
<rect x="1366.18" y="250" width="373.32" height="25" fill="#f9fb15"/>
<rect x="1621.88" y="250" width="117.62" height="25" fill="#2895ec"/>
<rect x="1632.11" y="250" width="107.39" height="25" fill="#473fe3"/>
<rect x="1642.33" y="250" width="97.17" height="25" fill="#412cba"/>
<rect x="1652.56" y="250" width="86.94" height="25" fill="#3f28ae"/>
<rect x="1662.79" y="250" width="76.71" height="25" fill="#3e26a8"/>
<rect x="1059.34" y="275" width="680.16" height="26" fill="#412dbc"/>
<rect x="1069.57" y="275" width="669.93" height="26" fill="#4537d5"/>
<rect x="1079.8" y="275" width="659.7" height="26" fill="#4743e7"/>
<rect x="1090.03" y="275" width="649.47" height="26" fill="#4850f3"/>
<rect x="1100.25" y="275" width="639.25" height="26" fill="#465dfb"/>
<rect x="1110.48" y="275" width="629.02" height="26" fill="#416bfe"/>
<rect x="1120.71" y="275" width="618.79" height="26" fill="#347afd"/>
<rect x="1130.94" y="275" width="608.56" height="26" fill="#2d87f6"/>
<rect x="1141.17" y="275" width="598.33" height="26" fill="#2994ed"/>
<rect x="1151.39" y="275" width="588.11" height="26" fill="#23a0e5"/>
<rect x="1161.62" y="275" width="577.88" height="26" fill="#1babde"/>
<rect x="1171.85" y="275" width="567.65" height="26" fill="#09b4d1"/>
<rect x="1182.08" y="275" width="557.42" height="26" fill="#02bbc3"/>
<rect x="1192.31" y="275" width="547.19" height="26" fill="#19bfb5"/>
<rect x="1202.53" y="275" width="536.97" height="26" fill="#2cc4a7"/>
<rect x="1212.76" y="275" width="526.74" height="26" fill="#38c897"/>
<rect x="1222.99" y="275" width="516.51" height="26" fill="#4bcb84"/>
<rect x="1233.22" y="275" width="506.28" height="26" fill="#65cd6e"/>
<rect x="1243.44" y="275" width="496.06" height="26" fill="#82cc58"/>
<rect x="1253.67" y="275" width="485.83" height="26" fill="#9fc942"/>
<rect x="1263.9" y="275" width="475.6" height="26" fill="#bac430"/>
<rect x="1274.13" y="275" width="465.37" height="26" fill="#d2bf27"/>
<rect x="1284.36" y="275" width="455.14" height="26" fill="#e7bb2e"/>
<rect x="1294.58" y="275" width="444.92" height="26" fill="#f9ba3d"/>
<rect x="1304.81" y="275" width="434.69" height="26" fill="#fec338"/>
<rect x="1315.04" y="275" width="424.46" height="26" fill="#fdcd31"/>
<rect x="1325.27" y="275" width="414.23" height="26" fill="#f8d82c"/>
<rect x="1335.5" y="275" width="404" height="26" fill="#f5e327"/>
<rect x="1345.72" y="275" width="393.78" height="26" fill="#f5ee21"/>
<rect x="1355.95" y="275" width="383.55" height="26" fill="#f8f817"/>
<rect x="1366.18" y="275" width="373.32" height="26" fill="#f9fb15"/>
<rect x="1621.88" y="275" width="117.62" height="26" fill="#3876fe"/>
<rect x="1632.11" y="275" width="107.39" height="26" fill="#463cde"/>
<rect x="1642.33" y="275" width="97.17" height="26" fill="#412cba"/>
<rect x="1652.56" y="275" width="86.94" height="26" fill="#3f28ae"/>
<rect x="1662.79" y="275" width="76.71" height="26" fill="#3e26a8"/>
<rect x="1049.11" y="301" width="690.39" height="25" fill="#3e27ab"/>
<rect x="1059.34" y="301" width="680.16" height="25" fill="#422fc2"/>
<rect x="1069.57" y="301" width="669.93" height="25" fill="#4539d9"/>
<rect x="1079.8" y="301" width="659.7" height="25" fill="#4745e9"/>
<rect x="1090.03" y="301" width="649.47" height="25" fill="#4852f4"/>
<rect x="1100.25" y="301" width="639.25" height="25" fill="#465ffb"/>
<rect x="1110.48" y="301" width="629.02" height="25" fill="#406dfe"/>
<rect x="1120.71" y="301" width="618.79" height="25" fill="#327cfc"/>
<rect x="1130.94" y="301" width="608.56" height="25" fill="#2d89f5"/>
<rect x="1141.17" y="301" width="598.33" height="25" fill="#2896ec"/>
<rect x="1151.39" y="301" width="588.11" height="25" fill="#22a1e4"/>
<rect x="1161.62" y="301" width="577.88" height="25" fill="#19acdc"/>
<rect x="1171.85" y="301" width="567.65" height="25" fill="#06b5cf"/>
<rect x="1182.08" y="301" width="557.42" height="25" fill="#05bbc1"/>
<rect x="1192.31" y="301" width="547.19" height="25" fill="#1cc0b3"/>
<rect x="1202.53" y="301" width="536.97" height="25" fill="#2ec4a5"/>
<rect x="1212.76" y="301" width="526.74" height="25" fill="#3ac994"/>
<rect x="1222.99" y="301" width="516.51" height="25" fill="#4ecc81"/>
<rect x="1233.22" y="301" width="506.28" height="25" fill="#68cd6c"/>
<rect x="1243.44" y="301" width="496.06" height="25" fill="#85cb56"/>
<rect x="1253.67" y="301" width="485.83" height="25" fill="#a1c840"/>
<rect x="1263.9" y="301" width="475.6" height="25" fill="#bcc42f"/>
<rect x="1274.13" y="301" width="465.37" height="25" fill="#d4bf28"/>
<rect x="1284.36" y="301" width="455.14" height="25" fill="#e9bb2f"/>
<rect x="1294.58" y="301" width="444.92" height="25" fill="#f9bb3d"/>
<rect x="1304.81" y="301" width="434.69" height="25" fill="#fec338"/>
<rect x="1315.04" y="301" width="424.46" height="25" fill="#fdce31"/>
<rect x="1325.27" y="301" width="414.23" height="25" fill="#f8d92c"/>
<rect x="1335.5" y="301" width="404" height="25" fill="#f5e427"/>
<rect x="1345.72" y="301" width="393.78" height="25" fill="#f5ee21"/>
<rect x="1355.95" y="301" width="383.55" height="25" fill="#f8f917"/>
<rect x="1366.18" y="301" width="373.32" height="25" fill="#f9fb15"/>
<rect x="1611.65" y="301" width="127.85" height="25" fill="#fabb3d"/>
<rect x="1621.88" y="301" width="117.62" height="25" fill="#3876fe"/>
<rect x="1632.11" y="301" width="107.39" height="25" fill="#463cde"/>
<rect x="1642.33" y="301" width="97.17" height="25" fill="#412cba"/>
<rect x="1652.56" y="301" width="86.94" height="25" fill="#3f29b1"/>
<rect x="1662.79" y="301" width="76.71" height="25" fill="#3e26a8"/>
<rect x="1049.11" y="326" width="690.39" height="25" fill="#402bb7"/>
<rect x="1059.34" y="326" width="680.16" height="25" fill="#4434ce"/>
<rect x="1069.57" y="326" width="669.93" height="25" fill="#463ee1"/>
<rect x="1079.8" y="326" width="659.7" height="25" fill="#484aee"/>
<rect x="1090.03" y="326" width="649.47" height="25" fill="#4757f7"/>
<rect x="1100.25" y="326" width="639.25" height="25" fill="#4563fd"/>
<rect x="1110.48" y="326" width="629.02" height="25" fill="#3c71ff"/>
<rect x="1120.71" y="326" width="618.79" height="25" fill="#307ffb"/>
<rect x="1130.94" y="326" width="608.56" height="25" fill="#2d8cf3"/>
<rect x="1141.17" y="326" width="598.33" height="25" fill="#2798ea"/>
<rect x="1151.39" y="326" width="588.11" height="25" fill="#21a3e3"/>
<rect x="1161.62" y="326" width="577.88" height="25" fill="#18aedb"/>
<rect x="1171.85" y="326" width="567.65" height="25" fill="#05b6cd"/>
<rect x="1182.08" y="326" width="557.42" height="25" fill="#07bcc0"/>
<rect x="1192.31" y="326" width="547.19" height="25" fill="#1ec0b2"/>
<rect x="1202.53" y="326" width="536.97" height="25" fill="#2ec5a3"/>
<rect x="1212.76" y="326" width="526.74" height="25" fill="#3bc993"/>
<rect x="1222.99" y="326" width="516.51" height="25" fill="#50cc80"/>
<rect x="1233.22" y="326" width="506.28" height="25" fill="#69cd6a"/>
<rect x="1243.44" y="326" width="496.06" height="25" fill="#86cb55"/>
<rect x="1253.67" y="326" width="485.83" height="25" fill="#a2c83f"/>
<rect x="1263.9" y="326" width="475.6" height="25" fill="#bdc32e"/>
<rect x="1274.13" y="326" width="465.37" height="25" fill="#d5be28"/>
<rect x="1284.36" y="326" width="455.14" height="25" fill="#e9bb30"/>
<rect x="1294.58" y="326" width="444.92" height="25" fill="#fabb3d"/>
<rect x="1304.81" y="326" width="434.69" height="25" fill="#fec438"/>
<rect x="1315.04" y="326" width="424.46" height="25" fill="#fdce31"/>
<rect x="1325.27" y="326" width="414.23" height="25" fill="#f8d92c"/>
<rect x="1335.5" y="326" width="404" height="25" fill="#f5e427"/>
<rect x="1345.72" y="326" width="393.78" height="25" fill="#f5ee21"/>
<rect x="1355.95" y="326" width="383.55" height="25" fill="#f9fb15"/>
<rect x="1611.65" y="326" width="127.85" height="25" fill="#41ca8c"/>
<rect x="1621.88" y="326" width="117.62" height="25" fill="#3876fe"/>
<rect x="1632.11" y="326" width="107.39" height="25" fill="#463cde"/>
<rect x="1642.33" y="326" width="97.17" height="25" fill="#412cba"/>
<rect x="1652.56" y="326" width="86.94" height="25" fill="#3f28ae"/>
<rect x="1662.79" y="326" width="76.71" height="25" fill="#3e26a8"/>
<rect x="1049.11" y="351" width="690.39" height="25" fill="#402bb7"/>
<rect x="1059.34" y="351" width="680.16" height="25" fill="#4434cd"/>
<rect x="1069.57" y="351" width="669.93" height="25" fill="#463ee1"/>
<rect x="1079.8" y="351" width="659.7" height="25" fill="#484aee"/>
<rect x="1090.03" y="351" width="649.47" height="25" fill="#4756f7"/>
<rect x="1100.25" y="351" width="639.25" height="25" fill="#4563fd"/>
<rect x="1110.48" y="351" width="629.02" height="25" fill="#3d71ff"/>
<rect x="1120.71" y="351" width="618.79" height="25" fill="#307ffb"/>
<rect x="1130.94" y="351" width="608.56" height="25" fill="#2d8cf3"/>
<rect x="1141.17" y="351" width="598.33" height="25" fill="#2798ea"/>
<rect x="1151.39" y="351" width="588.11" height="25" fill="#21a3e3"/>
<rect x="1161.62" y="351" width="577.88" height="25" fill="#18aedb"/>
<rect x="1171.85" y="351" width="567.65" height="25" fill="#04b6cd"/>
<rect x="1182.08" y="351" width="557.42" height="25" fill="#07bcc0"/>
<rect x="1192.31" y="351" width="547.19" height="25" fill="#1fc0b2"/>
<rect x="1202.53" y="351" width="536.97" height="25" fill="#2fc5a3"/>
<rect x="1212.76" y="351" width="526.74" height="25" fill="#3bc993"/>
<rect x="1222.99" y="351" width="516.51" height="25" fill="#50cc80"/>
<rect x="1233.22" y="351" width="506.28" height="25" fill="#69cd6a"/>
<rect x="1243.44" y="351" width="496.06" height="25" fill="#86cb55"/>
<rect x="1253.67" y="351" width="485.83" height="25" fill="#a2c83f"/>
<rect x="1263.9" y="351" width="475.6" height="25" fill="#bdc32f"/>
<rect x="1274.13" y="351" width="465.37" height="25" fill="#d4bf28"/>
<rect x="1284.36" y="351" width="455.14" height="25" fill="#e9bb2f"/>
<rect x="1294.58" y="351" width="444.92" height="25" fill="#f9bb3d"/>
<rect x="1304.81" y="351" width="434.69" height="25" fill="#fec338"/>
<rect x="1315.04" y="351" width="424.46" height="25" fill="#fdce31"/>
<rect x="1325.27" y="351" width="414.23" height="25" fill="#f8d92c"/>
<rect x="1335.5" y="351" width="404" height="25" fill="#f5e427"/>
<rect x="1345.72" y="351" width="393.78" height="25" fill="#f5ee21"/>
<rect x="1355.95" y="351" width="383.55" height="25" fill="#f8f917"/>
<rect x="1366.18" y="351" width="373.32" height="25" fill="#f9fb15"/>
<rect x="1611.65" y="351" width="127.85" height="25" fill="#d0c027"/>
<rect x="1621.88" y="351" width="117.62" height="25" fill="#3876fe"/>
<rect x="1632.11" y="351" width="107.39" height="25" fill="#463cde"/>
<rect x="1642.33" y="351" width="97.17" height="25" fill="#412cba"/>
<rect x="1652.56" y="351" width="86.94" height="25" fill="#3f28ae"/>
<rect x="1662.79" y="351" width="76.71" height="25" fill="#3e26a8"/>
<rect x="1049.11" y="376" width="690.39" height="25" fill="#402bb7"/>
<rect x="1059.34" y="376" width="680.16" height="25" fill="#4434ce"/>
<rect x="1069.57" y="376" width="669.93" height="25" fill="#463ee1"/>
<rect x="1079.8" y="376" width="659.7" height="25" fill="#484aee"/>
<rect x="1090.03" y="376" width="649.47" height="25" fill="#4757f7"/>
<rect x="1100.25" y="376" width="639.25" height="25" fill="#4563fd"/>
<rect x="1110.48" y="376" width="629.02" height="25" fill="#3c71ff"/>
<rect x="1120.71" y="376" width="618.79" height="25" fill="#307ffb"/>
<rect x="1130.94" y="376" width="608.56" height="25" fill="#2d8cf3"/>
<rect x="1141.17" y="376" width="598.33" height="25" fill="#2798ea"/>
<rect x="1151.39" y="376" width="588.11" height="25" fill="#21a3e3"/>
<rect x="1161.62" y="376" width="577.88" height="25" fill="#18aedb"/>
<rect x="1171.85" y="376" width="567.65" height="25" fill="#05b6cd"/>
<rect x="1182.08" y="376" width="557.42" height="25" fill="#06bcc0"/>
<rect x="1192.31" y="376" width="547.19" height="25" fill="#1ec0b2"/>
<rect x="1202.53" y="376" width="536.97" height="25" fill="#2ec5a4"/>
<rect x="1212.76" y="376" width="526.74" height="25" fill="#3ac993"/>
<rect x="1222.99" y="376" width="516.51" height="25" fill="#4fcc81"/>
<rect x="1233.22" y="376" width="506.28" height="25" fill="#68cd6b"/>
<rect x="1243.44" y="376" width="496.06" height="25" fill="#85cb55"/>
<rect x="1253.67" y="376" width="485.83" height="25" fill="#a1c840"/>
<rect x="1263.9" y="376" width="475.6" height="25" fill="#bcc42f"/>
<rect x="1274.13" y="376" width="465.37" height="25" fill="#d3bf27"/>
<rect x="1284.36" y="376" width="455.14" height="25" fill="#e8bb2f"/>
<rect x="1294.58" y="376" width="444.92" height="25" fill="#f9bb3d"/>
<rect x="1304.81" y="376" width="434.69" height="25" fill="#fec338"/>
<rect x="1315.04" y="376" width="424.46" height="25" fill="#fdcd31"/>
<rect x="1325.27" y="376" width="414.23" height="25" fill="#f8d82c"/>
<rect x="1335.5" y="376" width="404" height="25" fill="#f5e327"/>
<rect x="1345.72" y="376" width="393.78" height="25" fill="#f5ee21"/>
<rect x="1355.95" y="376" width="383.55" height="25" fill="#f8f817"/>
<rect x="1366.18" y="376" width="373.32" height="25" fill="#f9fb15"/>
<rect x="1621.88" y="376" width="117.62" height="25" fill="#3b72ff"/>
<rect x="1632.11" y="376" width="107.39" height="25" fill="#463cde"/>
<rect x="1642.33" y="376" width="97.17" height="25" fill="#402bb7"/>
<rect x="1652.56" y="376" width="86.94" height="25" fill="#3f28ae"/>
<rect x="1662.79" y="376" width="76.71" height="25" fill="#3e26a8"/>
<rect x="1049.11" y="401" width="690.39" height="26" fill="#3f29b1"/>
<rect x="1059.34" y="401" width="680.16" height="26" fill="#4332c9"/>
<rect x="1069.57" y="401" width="669.93" height="26" fill="#463cde"/>
<rect x="1079.8" y="401" width="659.7" height="26" fill="#4848ec"/>
<rect x="1090.03" y="401" width="649.47" height="26" fill="#4755f6"/>
<rect x="1100.25" y="401" width="639.25" height="26" fill="#4562fc"/>
<rect x="1110.48" y="401" width="629.02" height="26" fill="#3e6fff"/>
<rect x="1120.71" y="401" width="618.79" height="26" fill="#317efb"/>
<rect x="1130.94" y="401" width="608.56" height="26" fill="#2d8bf4"/>
<rect x="1141.17" y="401" width="598.33" height="26" fill="#2797eb"/>
<rect x="1151.39" y="401" width="588.11" height="26" fill="#22a2e4"/>
<rect x="1161.62" y="401" width="577.88" height="26" fill="#19addc"/>
<rect x="1171.85" y="401" width="567.65" height="26" fill="#06b5cf"/>
<rect x="1182.08" y="401" width="557.42" height="26" fill="#05bbc1"/>
<rect x="1192.31" y="401" width="547.19" height="26" fill="#1cc0b3"/>
<rect x="1202.53" y="401" width="536.97" height="26" fill="#2dc4a5"/>
<rect x="1212.76" y="401" width="526.74" height="26" fill="#39c895"/>
<rect x="1222.99" y="401" width="516.51" height="26" fill="#4ccb82"/>
<rect x="1233.22" y="401" width="506.28" height="26" fill="#66cd6d"/>
<rect x="1243.44" y="401" width="496.06" height="26" fill="#82cc58"/>
<rect x="1253.67" y="401" width="485.83" height="26" fill="#9ec942"/>
<rect x="1263.9" y="401" width="475.6" height="26" fill="#b9c430"/>
<rect x="1274.13" y="401" width="465.37" height="26" fill="#d1bf27"/>
<rect x="1284.36" y="401" width="455.14" height="26" fill="#e6bb2d"/>
<rect x="1294.58" y="401" width="444.92" height="26" fill="#f7ba3c"/>
<rect x="1304.81" y="401" width="434.69" height="26" fill="#fec239"/>
<rect x="1315.04" y="401" width="424.46" height="26" fill="#fdcc32"/>
<rect x="1325.27" y="401" width="414.23" height="26" fill="#f9d82c"/>
<rect x="1335.5" y="401" width="404" height="26" fill="#f5e327"/>
<rect x="1345.72" y="401" width="393.78" height="26" fill="#f5ee21"/>
<rect x="1355.95" y="401" width="383.55" height="26" fill="#f8f818"/>
<rect x="1366.18" y="401" width="373.32" height="26" fill="#f9fb15"/>
<rect x="1611.65" y="401" width="127.85" height="26" fill="#f6ef20"/>
<rect x="1621.88" y="401" width="117.62" height="26" fill="#3b72ff"/>
<rect x="1632.11" y="401" width="107.39" height="26" fill="#463cde"/>
<rect x="1642.33" y="401" width="97.17" height="26" fill="#402bb7"/>
<rect x="1652.56" y="401" width="86.94" height="26" fill="#3f28ae"/>
<rect x="1662.79" y="401" width="76.71" height="26" fill="#3e26a8"/>
<rect x="1059.34" y="427" width="680.16" height="25" fill="#422fc1"/>
<rect x="1069.57" y="427" width="669.93" height="25" fill="#4538d8"/>
<rect x="1079.8" y="427" width="659.7" height="25" fill="#4745e9"/>
<rect x="1090.03" y="427" width="649.47" height="25" fill="#4852f4"/>
<rect x="1100.25" y="427" width="639.25" height="25" fill="#465ffb"/>
<rect x="1110.48" y="427" width="629.02" height="25" fill="#406dfe"/>
<rect x="1120.71" y="427" width="618.79" height="25" fill="#337bfc"/>
<rect x="1130.94" y="427" width="608.56" height="25" fill="#2d88f6"/>
<rect x="1141.17" y="427" width="598.33" height="25" fill="#2995ec"/>
<rect x="1151.39" y="427" width="588.11" height="25" fill="#23a0e5"/>
<rect x="1161.62" y="427" width="577.88" height="25" fill="#1babde"/>
<rect x="1171.85" y="427" width="567.65" height="25" fill="#09b4d1"/>
<rect x="1182.08" y="427" width="557.42" height="25" fill="#02bac3"/>
<rect x="1192.31" y="427" width="547.19" height="25" fill="#18bfb6"/>
<rect x="1202.53" y="427" width="536.97" height="25" fill="#2bc3a8"/>
<rect x="1212.76" y="427" width="526.74" height="25" fill="#37c898"/>
<rect x="1222.99" y="427" width="516.51" height="25" fill="#49cb85"/>
<rect x="1233.22" y="427" width="506.28" height="25" fill="#62cd71"/>
<rect x="1243.44" y="427" width="496.06" height="25" fill="#7ecc5b"/>
<rect x="1253.67" y="427" width="485.83" height="25" fill="#9ac945"/>
<rect x="1263.9" y="427" width="475.6" height="25" fill="#b5c533"/>
<rect x="1274.13" y="427" width="465.37" height="25" fill="#cec028"/>
<rect x="1284.36" y="427" width="455.14" height="25" fill="#e3bc2c"/>
<rect x="1294.58" y="427" width="444.92" height="25" fill="#f5ba3a"/>
<rect x="1304.81" y="427" width="434.69" height="25" fill="#fec13a"/>
<rect x="1315.04" y="427" width="424.46" height="25" fill="#fdcb33"/>
<rect x="1325.27" y="427" width="414.23" height="25" fill="#f9d72d"/>
<rect x="1335.5" y="427" width="404" height="25" fill="#f5e227"/>
<rect x="1345.72" y="427" width="393.78" height="25" fill="#f5ed22"/>
<rect x="1355.95" y="427" width="383.55" height="25" fill="#f8f818"/>
<rect x="1366.18" y="427" width="373.32" height="25" fill="#f9fb15"/>
<rect x="1611.65" y="427" width="127.85" height="25" fill="#2895ec"/>
<rect x="1621.88" y="427" width="117.62" height="25" fill="#4743e7"/>
<rect x="1632.11" y="427" width="107.39" height="25" fill="#4539d9"/>
<rect x="1642.33" y="427" width="97.17" height="25" fill="#402bb7"/>
<rect x="1652.56" y="427" width="86.94" height="25" fill="#3f28ae"/>
<rect x="1662.79" y="427" width="76.71" height="25" fill="#3e26a8"/>
<rect x="1059.34" y="452" width="680.16" height="25" fill="#3f28ae"/>
<rect x="1069.57" y="452" width="669.93" height="25" fill="#4332c9"/>
<rect x="1079.8" y="452" width="659.7" height="25" fill="#463de0"/>
<rect x="1090.03" y="452" width="649.47" height="25" fill="#484bef"/>
<rect x="1100.25" y="452" width="639.25" height="25" fill="#4759f8"/>
<rect x="1110.48" y="452" width="629.02" height="25" fill="#4366fd"/>
<rect x="1120.71" y="452" width="618.79" height="25" fill="#3875fe"/>
<rect x="1130.94" y="452" width="608.56" height="25" fill="#2e84f9"/>
<rect x="1141.17" y="452" width="598.33" height="25" fill="#2b91ef"/>
<rect x="1151.39" y="452" width="588.11" height="25" fill="#259de7"/>
<rect x="1161.62" y="452" width="577.88" height="25" fill="#1da8e0"/>
<rect x="1171.85" y="452" width="567.65" height="25" fill="#0fb2d5"/>
<rect x="1182.08" y="452" width="557.42" height="25" fill="#01b9c6"/>
<rect x="1192.31" y="452" width="547.19" height="25" fill="#12beb9"/>
<rect x="1202.53" y="452" width="536.97" height="25" fill="#28c2ab"/>
<rect x="1212.76" y="452" width="526.74" height="25" fill="#34c79b"/>
<rect x="1222.99" y="452" width="516.51" height="25" fill="#44cb8a"/>
<rect x="1233.22" y="452" width="506.28" height="25" fill="#5ccc75"/>
<rect x="1243.44" y="452" width="496.06" height="25" fill="#78cc5f"/>
<rect x="1253.67" y="452" width="485.83" height="25" fill="#95ca49"/>
<rect x="1263.9" y="452" width="475.6" height="25" fill="#b0c636"/>
<rect x="1274.13" y="452" width="465.37" height="25" fill="#c9c129"/>
<rect x="1284.36" y="452" width="455.14" height="25" fill="#dfbc2a"/>
<rect x="1294.58" y="452" width="444.92" height="25" fill="#f2ba38"/>
<rect x="1304.81" y="452" width="434.69" height="25" fill="#febf3b"/>
<rect x="1315.04" y="452" width="424.46" height="25" fill="#feca34"/>
<rect x="1325.27" y="452" width="414.23" height="25" fill="#fad52d"/>
<rect x="1335.5" y="452" width="404" height="25" fill="#f6e128"/>
<rect x="1345.72" y="452" width="393.78" height="25" fill="#f5ec22"/>
<rect x="1355.95" y="452" width="383.55" height="25" fill="#f8f719"/>
<rect x="1366.18" y="452" width="373.32" height="25" fill="#f9fb15"/>
<rect x="1611.65" y="452" width="127.85" height="25" fill="#0ab4d2"/>
<rect x="1621.88" y="452" width="117.62" height="25" fill="#4743e7"/>
<rect x="1632.11" y="452" width="107.39" height="25" fill="#412cba"/>
<rect x="1642.33" y="452" width="97.17" height="25" fill="#3f28ae"/>
<rect x="1652.56" y="452" width="86.94" height="25" fill="#3e26a8"/>
<rect x="1069.57" y="477" width="669.93" height="25" fill="#412dbb"/>
<rect x="1079.8" y="477" width="659.7" height="25" fill="#4538d7"/>
<rect x="1090.03" y="477" width="649.47" height="25" fill="#4745e9"/>
<rect x="1100.25" y="477" width="639.25" height="25" fill="#4854f5"/>
<rect x="1110.48" y="477" width="629.02" height="25" fill="#4562fc"/>
<rect x="1120.71" y="477" width="618.79" height="25" fill="#3d70ff"/>
<rect x="1130.94" y="477" width="608.56" height="25" fill="#307ffb"/>
<rect x="1141.17" y="477" width="598.33" height="25" fill="#2d8df2"/>
<rect x="1151.39" y="477" width="588.11" height="25" fill="#2699e9"/>
<rect x="1161.62" y="477" width="577.88" height="25" fill="#20a5e3"/>
<rect x="1171.85" y="477" width="567.65" height="25" fill="#15afd9"/>
<rect x="1182.08" y="477" width="557.42" height="25" fill="#02b7cb"/>
<rect x="1192.31" y="477" width="547.19" height="25" fill="#0abdbd"/>
<rect x="1202.53" y="477" width="536.97" height="25" fill="#23c1af"/>
<rect x="1212.76" y="477" width="526.74" height="25" fill="#31c6a0"/>
<rect x="1222.99" y="477" width="516.51" height="25" fill="#3eca8f"/>
<rect x="1233.22" y="477" width="506.28" height="25" fill="#55cc7b"/>
<rect x="1243.44" y="477" width="496.06" height="25" fill="#70cd65"/>
<rect x="1253.67" y="477" width="485.83" height="25" fill="#8dcb4f"/>
<rect x="1263.9" y="477" width="475.6" height="25" fill="#a9c73a"/>
<rect x="1274.13" y="477" width="465.37" height="25" fill="#c3c22b"/>
<rect x="1284.36" y="477" width="455.14" height="25" fill="#dabd28"/>
<rect x="1294.58" y="477" width="444.92" height="25" fill="#eeba34"/>
<rect x="1304.81" y="477" width="434.69" height="25" fill="#fdbd3d"/>
<rect x="1315.04" y="477" width="424.46" height="25" fill="#fec735"/>
<rect x="1325.27" y="477" width="414.23" height="25" fill="#fbd32e"/>
<rect x="1335.5" y="477" width="404" height="25" fill="#f6df29"/>
<rect x="1345.72" y="477" width="393.78" height="25" fill="#f5eb23"/>
<rect x="1355.95" y="477" width="383.55" height="25" fill="#f7f61a"/>
<rect x="1366.18" y="477" width="373.32" height="25" fill="#f9fb15"/>
<rect x="1611.65" y="477" width="127.85" height="25" fill="#3e70ff"/>
<rect x="1621.88" y="477" width="117.62" height="25" fill="#4743e7"/>
<rect x="1632.11" y="477" width="107.39" height="25" fill="#412cba"/>
<rect x="1642.33" y="477" width="97.17" height="25" fill="#3f28ae"/>
<rect x="1652.56" y="477" width="86.94" height="25" fill="#3e26a8"/>
<rect x="1079.8" y="502" width="659.7" height="25" fill="#422ebe"/>
<rect x="1090.03" y="502" width="649.47" height="25" fill="#463adc"/>
<rect x="1100.25" y="502" width="639.25" height="25" fill="#4849ed"/>
<rect x="1110.48" y="502" width="629.02" height="25" fill="#4758f8"/>
<rect x="1120.71" y="502" width="618.79" height="25" fill="#4367fd"/>
<rect x="1130.94" y="502" width="608.56" height="25" fill="#3677fe"/>
<rect x="1141.17" y="502" width="598.33" height="25" fill="#2e86f7"/>
<rect x="1151.39" y="502" width="588.11" height="25" fill="#2a93ed"/>
<rect x="1161.62" y="502" width="577.88" height="25" fill="#239fe5"/>
<rect x="1171.85" y="502" width="567.65" height="25" fill="#1babde"/>
<rect x="1182.08" y="502" width="557.42" height="25" fill="#09b4d1"/>
<rect x="1192.31" y="502" width="547.19" height="25" fill="#02bbc3"/>
<rect x="1202.53" y="502" width="536.97" height="25" fill="#1abfb5"/>
<rect x="1212.76" y="502" width="526.74" height="25" fill="#2cc4a6"/>
<rect x="1222.99" y="502" width="516.51" height="25" fill="#38c896"/>
<rect x="1233.22" y="502" width="506.28" height="25" fill="#4ccb83"/>
<rect x="1243.44" y="502" width="496.06" height="25" fill="#66cd6d"/>
<rect x="1253.67" y="502" width="485.83" height="25" fill="#84cc56"/>
<rect x="1263.9" y="502" width="475.6" height="25" fill="#a1c840"/>
<rect x="1274.13" y="502" width="465.37" height="25" fill="#bcc42f"/>
<rect x="1284.36" y="502" width="455.14" height="25" fill="#d4bf28"/>
<rect x="1294.58" y="502" width="444.92" height="25" fill="#e9bb30"/>
<rect x="1304.81" y="502" width="434.69" height="25" fill="#fabb3d"/>
<rect x="1315.04" y="502" width="424.46" height="25" fill="#fec537"/>
<rect x="1325.27" y="502" width="414.23" height="25" fill="#fcd130"/>
<rect x="1335.5" y="502" width="404" height="25" fill="#f7dd2a"/>
<rect x="1345.72" y="502" width="393.78" height="25" fill="#f5e924"/>
<rect x="1355.95" y="502" width="383.55" height="25" fill="#f7f51c"/>
<rect x="1366.18" y="502" width="373.32" height="25" fill="#f9fb15"/>
<rect x="1601.42" y="502" width="138.08" height="25" fill="#fdbd3d"/>
<rect x="1611.65" y="502" width="127.85" height="25" fill="#475cfa"/>
<rect x="1621.88" y="502" width="117.62" height="25" fill="#4330c5"/>
<rect x="1632.11" y="502" width="107.39" height="25" fill="#402ab5"/>
<rect x="1642.33" y="502" width="97.17" height="25" fill="#3e26a8"/>
<rect x="1090.03" y="527" width="649.47" height="25" fill="#4434cf"/>
<rect x="1100.25" y="527" width="639.25" height="25" fill="#4743e7"/>
<rect x="1110.48" y="527" width="629.02" height="25" fill="#4853f5"/>
<rect x="1120.71" y="527" width="618.79" height="25" fill="#4562fc"/>
<rect x="1130.94" y="527" width="608.56" height="25" fill="#3c71ff"/>
<rect x="1141.17" y="527" width="598.33" height="25" fill="#2f81fa"/>
<rect x="1151.39" y="527" width="588.11" height="25" fill="#2c8ef1"/>
<rect x="1161.62" y="527" width="577.88" height="25" fill="#269be8"/>
<rect x="1171.85" y="527" width="567.65" height="25" fill="#1fa6e2"/>
<rect x="1182.08" y="527" width="557.42" height="25" fill="#14b0d8"/>
<rect x="1192.31" y="527" width="547.19" height="25" fill="#01b8ca"/>
<rect x="1202.53" y="527" width="536.97" height="25" fill="#0cbdbc"/>
<rect x="1212.76" y="527" width="526.74" height="25" fill="#25c2ad"/>
<rect x="1222.99" y="527" width="516.51" height="25" fill="#33c69e"/>
<rect x="1233.22" y="527" width="506.28" height="25" fill="#42ca8b"/>
<rect x="1243.44" y="527" width="496.06" height="25" fill="#5bcc76"/>
<rect x="1253.67" y="527" width="485.83" height="25" fill="#78cc5f"/>
<rect x="1263.9" y="527" width="475.6" height="25" fill="#96ca49"/>
<rect x="1274.13" y="527" width="465.37" height="25" fill="#b2c535"/>
<rect x="1284.36" y="527" width="455.14" height="25" fill="#ccc028"/>
<rect x="1294.58" y="527" width="444.92" height="25" fill="#e3bc2c"/>
<rect x="1304.81" y="527" width="434.69" height="25" fill="#f5ba3b"/>
<rect x="1315.04" y="527" width="424.46" height="25" fill="#fec239"/>
<rect x="1325.27" y="527" width="414.23" height="25" fill="#fdce31"/>
<rect x="1335.5" y="527" width="404" height="25" fill="#f8da2b"/>
<rect x="1345.72" y="527" width="393.78" height="25" fill="#f5e725"/>
<rect x="1355.95" y="527" width="383.55" height="25" fill="#f7f31d"/>
<rect x="1366.18" y="527" width="373.32" height="25" fill="#f9fb15"/>
<rect x="1601.42" y="527" width="138.08" height="25" fill="#2895ec"/>
<rect x="1611.65" y="527" width="127.85" height="25" fill="#4435d0"/>
<rect x="1621.88" y="527" width="117.62" height="25" fill="#4539d9"/>
<rect x="1632.11" y="527" width="107.39" height="25" fill="#402bb7"/>
<rect x="1642.33" y="527" width="97.17" height="25" fill="#3e26a8"/>
<rect x="1100.25" y="552" width="639.25" height="26" fill="#4331c6"/>
<rect x="1110.48" y="552" width="629.02" height="26" fill="#4741e5"/>
<rect x="1120.71" y="552" width="618.79" height="26" fill="#4853f5"/>
<rect x="1130.94" y="552" width="608.56" height="26" fill="#4563fd"/>
<rect x="1141.17" y="552" width="598.33" height="26" fill="#3a74fe"/>
<rect x="1151.39" y="552" width="588.11" height="26" fill="#2e84f9"/>
<rect x="1161.62" y="552" width="577.88" height="26" fill="#2b92ee"/>
<rect x="1171.85" y="552" width="567.65" height="26" fill="#249ee6"/>
<rect x="1182.08" y="552" width="557.42" height="26" fill="#1caadf"/>
<rect x="1192.31" y="552" width="547.19" height="26" fill="#0cb3d3"/>
<rect x="1202.53" y="552" width="536.97" height="26" fill="#02bac4"/>
<rect x="1212.76" y="552" width="526.74" height="26" fill="#18bfb6"/>
<rect x="1222.99" y="552" width="516.51" height="26" fill="#2cc4a6"/>
<rect x="1233.22" y="552" width="506.28" height="26" fill="#39c895"/>
<rect x="1243.44" y="552" width="496.06" height="26" fill="#4ecc81"/>
<rect x="1253.67" y="552" width="485.83" height="26" fill="#69cd6a"/>
<rect x="1263.9" y="552" width="475.6" height="26" fill="#88cb53"/>
<rect x="1274.13" y="552" width="465.37" height="26" fill="#a6c73c"/>
<rect x="1284.36" y="552" width="455.14" height="26" fill="#c2c22c"/>
<rect x="1294.58" y="552" width="444.92" height="26" fill="#dbbd28"/>
<rect x="1304.81" y="552" width="434.69" height="26" fill="#efba35"/>
<rect x="1315.04" y="552" width="424.46" height="26" fill="#febe3c"/>
<rect x="1325.27" y="552" width="414.23" height="26" fill="#feca33"/>
<rect x="1335.5" y="552" width="404" height="26" fill="#f9d72d"/>
<rect x="1345.72" y="552" width="393.78" height="26" fill="#f5e427"/>
<rect x="1355.95" y="552" width="383.55" height="26" fill="#f6f01f"/>
<rect x="1366.18" y="552" width="373.32" height="26" fill="#f9fb15"/>
<rect x="1601.42" y="552" width="138.08" height="26" fill="#4755f6"/>
<rect x="1611.65" y="552" width="127.85" height="26" fill="#4744e9"/>
<rect x="1621.88" y="552" width="117.62" height="26" fill="#4330c5"/>
<rect x="1632.11" y="552" width="107.39" height="26" fill="#3f29b1"/>
<rect x="1642.33" y="552" width="97.17" height="26" fill="#3e26a8"/>
<rect x="1110.48" y="578" width="629.02" height="25" fill="#4433cc"/>
<rect x="1120.71" y="578" width="618.79" height="25" fill="#4746ea"/>
<rect x="1130.94" y="578" width="608.56" height="25" fill="#4758f8"/>
<rect x="1141.17" y="578" width="598.33" height="25" fill="#4269fe"/>
<rect x="1151.39" y="578" width="588.11" height="25" fill="#347afd"/>
<rect x="1161.62" y="578" width="577.88" height="25" fill="#2d89f5"/>
<rect x="1171.85" y="578" width="567.65" height="25" fill="#2797eb"/>
<rect x="1182.08" y="578" width="557.42" height="25" fill="#21a2e4"/>
<rect x="1192.31" y="578" width="547.19" height="25" fill="#19addb"/>
<rect x="1202.53" y="578" width="536.97" height="25" fill="#05b6ce"/>
<rect x="1212.76" y="578" width="526.74" height="25" fill="#07bcc0"/>
<rect x="1222.99" y="578" width="516.51" height="25" fill="#21c1b0"/>
<rect x="1233.22" y="578" width="506.28" height="25" fill="#31c6a0"/>
<rect x="1243.44" y="578" width="496.06" height="25" fill="#40ca8d"/>
<rect x="1253.67" y="578" width="485.83" height="25" fill="#5acc78"/>
<rect x="1263.9" y="578" width="475.6" height="25" fill="#78cc5f"/>
<rect x="1274.13" y="578" width="465.37" height="25" fill="#97ca47"/>
<rect x="1284.36" y="578" width="455.14" height="25" fill="#b5c533"/>
<rect x="1294.58" y="578" width="444.92" height="25" fill="#d0bf27"/>
<rect x="1304.81" y="578" width="434.69" height="25" fill="#e7bb2e"/>
<rect x="1315.04" y="578" width="424.46" height="25" fill="#fabb3d"/>
<rect x="1325.27" y="578" width="414.23" height="25" fill="#fec636"/>
<rect x="1335.5" y="578" width="404" height="25" fill="#fbd32f"/>
<rect x="1345.72" y="578" width="393.78" height="25" fill="#f6e028"/>
<rect x="1355.95" y="578" width="383.55" height="25" fill="#f5ee21"/>
<rect x="1366.18" y="578" width="373.32" height="25" fill="#f9fb15"/>
<rect x="1601.42" y="578" width="138.08" height="25" fill="#475cfa"/>
<rect x="1611.65" y="578" width="127.85" height="25" fill="#4330c5"/>
<rect x="1621.88" y="578" width="117.62" height="25" fill="#402ab5"/>
<rect x="1632.11" y="578" width="107.39" height="25" fill="#3e26a8"/>
<rect x="1120.71" y="603" width="618.79" height="25" fill="#402ab5"/>
<rect x="1130.94" y="603" width="608.56" height="25" fill="#4741e5"/>
<rect x="1141.17" y="603" width="598.33" height="25" fill="#4756f7"/>
<rect x="1151.39" y="603" width="588.11" height="25" fill="#4369fe"/>
<rect x="1161.62" y="603" width="577.88" height="25" fill="#337bfc"/>
<rect x="1171.85" y="603" width="567.65" height="25" fill="#2d8bf4"/>
<rect x="1182.08" y="603" width="557.42" height="25" fill="#2698ea"/>
<rect x="1192.31" y="603" width="547.19" height="25" fill="#20a4e3"/>
<rect x="1202.53" y="603" width="536.97" height="25" fill="#16afd9"/>
<rect x="1212.76" y="603" width="526.74" height="25" fill="#02b7cb"/>
<rect x="1222.99" y="603" width="516.51" height="25" fill="#0cbdbc"/>
<rect x="1233.22" y="603" width="506.28" height="25" fill="#26c2ac"/>
<rect x="1243.44" y="603" width="496.06" height="25" fill="#35c79b"/>
<rect x="1253.67" y="603" width="485.83" height="25" fill="#48cb86"/>
<rect x="1263.9" y="603" width="475.6" height="25" fill="#64cd6e"/>
<rect x="1274.13" y="603" width="465.37" height="25" fill="#85cb55"/>
<rect x="1284.36" y="603" width="455.14" height="25" fill="#a5c83d"/>
<rect x="1294.58" y="603" width="444.92" height="25" fill="#c3c22b"/>
<rect x="1304.81" y="603" width="434.69" height="25" fill="#ddbd29"/>
<rect x="1315.04" y="603" width="424.46" height="25" fill="#f2ba38"/>
<rect x="1325.27" y="603" width="414.23" height="25" fill="#fec13a"/>
<rect x="1335.5" y="603" width="404" height="25" fill="#fdce31"/>
<rect x="1345.72" y="603" width="393.78" height="25" fill="#f7dc2a"/>
<rect x="1355.95" y="603" width="383.55" height="25" fill="#f5ea24"/>
<rect x="1366.18" y="603" width="373.32" height="25" fill="#f8f719"/>
<rect x="1376.41" y="603" width="363.09" height="25" fill="#f9fb15"/>
<rect x="1591.19" y="603" width="148.31" height="25" fill="#2895ec"/>
<rect x="1601.42" y="603" width="138.08" height="25" fill="#463cde"/>
<rect x="1611.65" y="603" width="127.85" height="25" fill="#412cba"/>
<rect x="1621.88" y="603" width="117.62" height="25" fill="#3f28ae"/>
<rect x="1632.11" y="603" width="107.39" height="25" fill="#3e26a8"/>
<rect x="1141.17" y="628" width="598.33" height="25" fill="#4435d1"/>
<rect x="1151.39" y="628" width="588.11" height="25" fill="#4850f2"/>
<rect x="1161.62" y="628" width="577.88" height="25" fill="#4465fd"/>
<rect x="1171.85" y="628" width="567.65" height="25" fill="#3479fd"/>
<rect x="1182.08" y="628" width="557.42" height="25" fill="#2d8af4"/>
<rect x="1192.31" y="628" width="547.19" height="25" fill="#2699e9"/>
<rect x="1202.53" y="628" width="536.97" height="25" fill="#20a5e2"/>
<rect x="1212.76" y="628" width="526.74" height="25" fill="#14b0d8"/>
<rect x="1222.99" y="628" width="516.51" height="25" fill="#01b8ca"/>
<rect x="1233.22" y="628" width="506.28" height="25" fill="#10beba"/>
<rect x="1243.44" y="628" width="496.06" height="25" fill="#29c3a9"/>
<rect x="1253.67" y="628" width="485.83" height="25" fill="#38c896"/>
<rect x="1263.9" y="628" width="475.6" height="25" fill="#4fcc80"/>
<rect x="1274.13" y="628" width="465.37" height="25" fill="#6ecd66"/>
<rect x="1284.36" y="628" width="455.14" height="25" fill="#91ca4c"/>
<rect x="1294.58" y="628" width="444.92" height="25" fill="#b2c635"/>
<rect x="1304.81" y="628" width="434.69" height="25" fill="#cfc028"/>
<rect x="1315.04" y="628" width="424.46" height="25" fill="#e8bb2f"/>
<rect x="1325.27" y="628" width="414.23" height="25" fill="#fbbc3d"/>
<rect x="1335.5" y="628" width="404" height="25" fill="#fec834"/>
<rect x="1345.72" y="628" width="393.78" height="25" fill="#f9d72d"/>
<rect x="1355.95" y="628" width="383.55" height="25" fill="#f5e526"/>
<rect x="1366.18" y="628" width="373.32" height="25" fill="#f7f31d"/>
<rect x="1376.41" y="628" width="363.09" height="25" fill="#f9fb15"/>
<rect x="1580.97" y="628" width="158.53" height="25" fill="#9fc942"/>
<rect x="1591.19" y="628" width="148.31" height="25" fill="#4755f6"/>
<rect x="1601.42" y="628" width="138.08" height="25" fill="#4330c5"/>
<rect x="1611.65" y="628" width="127.85" height="25" fill="#402bb7"/>
<rect x="1621.88" y="628" width="117.62" height="25" fill="#3f28ae"/>
<rect x="1632.11" y="628" width="107.39" height="25" fill="#3e26a8"/>
<rect x="1161.62" y="653" width="577.88" height="26.2" fill="#463ee1"/>
<rect x="1171.85" y="653" width="567.65" height="26.2" fill="#475cfa"/>
<rect x="1182.08" y="653" width="557.42" height="26.2" fill="#3a73fe"/>
<rect x="1192.31" y="653" width="547.19" height="26.2" fill="#2e87f7"/>
<rect x="1202.53" y="653" width="536.97" height="26.2" fill="#2797eb"/>
<rect x="1212.76" y="653" width="526.74" height="26.2" fill="#20a4e3"/>
<rect x="1222.99" y="653" width="516.51" height="26.2" fill="#15afd9"/>
<rect x="1233.22" y="653" width="506.28" height="26.2" fill="#01b8ca"/>
<rect x="1243.44" y="653" width="496.06" height="26.2" fill="#11beb9"/>
<rect x="1253.67" y="653" width="485.83" height="26.2" fill="#2bc3a8"/>
<rect x="1263.9" y="653" width="475.6" height="26.2" fill="#3ac993"/>
<rect x="1274.13" y="653" width="465.37" height="26.2" fill="#56cc7b"/>
<rect x="1284.36" y="653" width="455.14" height="26.2" fill="#77cc60"/>
<rect x="1294.58" y="653" width="444.92" height="26.2" fill="#9bc944"/>
<rect x="1304.81" y="653" width="434.69" height="26.2" fill="#bdc32e"/>
<rect x="1315.04" y="653" width="424.46" height="26.2" fill="#dabd28"/>
<rect x="1325.27" y="653" width="414.23" height="26.2" fill="#f2ba38"/>
<rect x="1335.5" y="653" width="404" height="26.2" fill="#fec239"/>
<rect x="1345.72" y="653" width="393.78" height="26.2" fill="#fcd030"/>
<rect x="1355.95" y="653" width="383.55" height="26.2" fill="#f6e028"/>
<rect x="1366.18" y="653" width="373.32" height="26.2" fill="#f5ef20"/>
<rect x="1376.41" y="653" width="363.09" height="26.2" fill="#f9fb15"/>
<rect x="1580.97" y="653" width="158.53" height="26.2" fill="#2895ec"/>
<rect x="1591.19" y="653" width="148.31" height="26.2" fill="#463cde"/>
<rect x="1601.42" y="653" width="138.08" height="26.2" fill="#412cba"/>
<rect x="1611.65" y="653" width="127.85" height="26.2" fill="#402ab5"/>
<rect x="1621.88" y="653" width="117.62" height="26.2" fill="#3e26a8"/>
<rect x="1044" y="48" width="15.34" height="1.1" fill="#eaba31"/>
<rect x="1059.34" y="48" width="10.23" height="1.1" fill="#48cb86"/>
</g>
<line x1="1044" y1="47.6" x2="1739.5" y2="47.6" stroke="#1a1a1a" stroke-width="1.8" />
<line x1="1044" y1="46.7" x2="1044" y2="680.1" stroke="#1a1a1a" stroke-width="1.8" />
<line x1="1044" y1="679.2" x2="1739.5" y2="679.2" stroke="#1a1a1a" stroke-width="1.8" />
<line x1="1739" y1="46.7" x2="1739" y2="680.1" stroke="#1a1a1a" stroke-width="1.8" />
<line x1="1036.7" y1="47.6" x2="1044" y2="47.6" stroke="#1a1a1a" stroke-width="1.8" />
<text transform="translate(1023.6 55.1) scale(0.976 1)" font-size="24.9" text-anchor="end" font-weight="normal" >2</text>
<line x1="1036.7" y1="126.55" x2="1044" y2="126.55" stroke="#1a1a1a" stroke-width="1.8" />
<text transform="translate(1023.6 134.05) scale(0.976 1)" font-size="24.9" text-anchor="end" font-weight="normal" >1.5</text>
<line x1="1036.7" y1="205.5" x2="1044" y2="205.5" stroke="#1a1a1a" stroke-width="1.8" />
<text transform="translate(1023.6 213.2) scale(0.976 1)" font-size="24.9" text-anchor="end" font-weight="normal" >1</text>
<line x1="1036.7" y1="284.45" x2="1044" y2="284.45" stroke="#1a1a1a" stroke-width="1.8" />
<text transform="translate(1023.6 292.35) scale(0.976 1)" font-size="24.9" text-anchor="end" font-weight="normal" >0.5</text>
<line x1="1036.7" y1="363.4" x2="1044" y2="363.4" stroke="#1a1a1a" stroke-width="1.8" />
<text transform="translate(1023.6 371.8) scale(0.976 1)" font-size="24.9" text-anchor="end" font-weight="normal" >0</text>
<line x1="1036.7" y1="442.35" x2="1044" y2="442.35" stroke="#1a1a1a" stroke-width="1.8" />
<text transform="translate(1023.3 451.35) scale(0.976 1)" font-size="24.9" text-anchor="end" font-weight="normal" >&#8211;0.5</text>
<line x1="1036.7" y1="521.3" x2="1044" y2="521.3" stroke="#1a1a1a" stroke-width="1.8" />
<text transform="translate(1023.3 530.7) scale(0.976 1)" font-size="24.9" text-anchor="end" font-weight="normal" >&#8211;1</text>
<line x1="1036.7" y1="600.25" x2="1044" y2="600.25" stroke="#1a1a1a" stroke-width="1.8" />
<text transform="translate(1023.3 610.25) scale(0.976 1)" font-size="24.9" text-anchor="end" font-weight="normal" >&#8211;1.5</text>
<line x1="1036.7" y1="679.2" x2="1044" y2="679.2" stroke="#1a1a1a" stroke-width="1.8" />
<text transform="translate(1023.3 689.1) scale(0.976 1)" font-size="24.9" text-anchor="end" font-weight="normal" >&#8211;2</text>
<line x1="1125.82" y1="679.2" x2="1125.82" y2="686.5" stroke="#1a1a1a" stroke-width="1.8" />
<text transform="translate(1125.82 717.8) scale(1.010 1)" font-size="24.9" text-anchor="middle" font-weight="normal" >40</text>
<line x1="1228.1" y1="679.2" x2="1228.1" y2="686.5" stroke="#1a1a1a" stroke-width="1.8" />
<text transform="translate(1228.1 717.8) scale(1.010 1)" font-size="24.9" text-anchor="middle" font-weight="normal" >45</text>
<line x1="1330.38" y1="679.2" x2="1330.38" y2="686.5" stroke="#1a1a1a" stroke-width="1.8" />
<text transform="translate(1330.38 717.8) scale(1.010 1)" font-size="24.9" text-anchor="middle" font-weight="normal" >50</text>
<line x1="1432.66" y1="679.2" x2="1432.66" y2="686.5" stroke="#1a1a1a" stroke-width="1.8" />
<text transform="translate(1432.66 717.8) scale(1.010 1)" font-size="24.9" text-anchor="middle" font-weight="normal" >55</text>
<line x1="1534.94" y1="679.2" x2="1534.94" y2="686.5" stroke="#1a1a1a" stroke-width="1.8" />
<text transform="translate(1534.94 717.8) scale(1.010 1)" font-size="24.9" text-anchor="middle" font-weight="normal" >60</text>
<line x1="1637.22" y1="679.2" x2="1637.22" y2="686.5" stroke="#1a1a1a" stroke-width="1.8" />
<text transform="translate(1637.22 717.8) scale(1.010 1)" font-size="24.9" text-anchor="middle" font-weight="normal" >65</text>
<line x1="1739.5" y1="679.2" x2="1739.5" y2="686.5" stroke="#1a1a1a" stroke-width="1.8" />
<text transform="translate(1739.5 717.8) scale(1.010 1)" font-size="24.9" text-anchor="middle" font-weight="normal" >70</text>
<text transform="translate(1391.5 756.3) scale(1.060 1)" font-size="23.5" text-anchor="middle" font-weight="normal" >Normalized detuning 2<tspan font-family='&quot;Liberation Serif&quot;, &quot;DejaVu Serif&quot;, serif' font-size="23.5" >&#948;&#969;</tspan><tspan font-size="14" dy="9">p</tspan><tspan dy="-9" font-size="1">&#8203;</tspan>/&#954;<tspan font-size="14" dy="9">p</tspan><tspan dy="-9" font-size="1">&#8203;</tspan></text>
<text transform="translate(950.2 363.4) rotate(-90) scale(1.060 1)" font-size="23.5" text-anchor="middle" font-weight="normal" >FSR mismatch <tspan font-family='&quot;Liberation Serif&quot;, &quot;DejaVu Serif&quot;, serif' font-size="23.5" >&#916;</tspan>D<tspan font-size="14" dy="9">1,s</tspan><tspan dy="-9" font-size="1">&#8203;</tspan>/2<tspan font-family='&quot;Liberation Serif&quot;, &quot;DejaVu Serif&quot;, serif' font-size="24.5" >&#960;</tspan> (MHz)</text>
<defs><linearGradient id="cbg" x1="0" y1="1" x2="0" y2="0"><stop offset="0%" stop-color="#3e26a8"/><stop offset="1.59%" stop-color="#402ab4"/><stop offset="3.17%" stop-color="#422ec0"/><stop offset="4.76%" stop-color="#4332cb"/><stop offset="6.35%" stop-color="#4537d5"/><stop offset="7.94%" stop-color="#463cde"/><stop offset="9.52%" stop-color="#4741e5"/><stop offset="11.11%" stop-color="#4747eb"/><stop offset="12.7%" stop-color="#484df0"/><stop offset="14.29%" stop-color="#4852f4"/><stop offset="15.87%" stop-color="#4758f8"/><stop offset="17.46%" stop-color="#465efb"/><stop offset="19.05%" stop-color="#4563fd"/><stop offset="20.63%" stop-color="#4269fe"/><stop offset="22.22%" stop-color="#3e6fff"/><stop offset="23.81%" stop-color="#3875fe"/><stop offset="25.4%" stop-color="#327cfc"/><stop offset="26.98%" stop-color="#2f81fa"/><stop offset="28.57%" stop-color="#2e87f7"/><stop offset="30.16%" stop-color="#2d8cf3"/><stop offset="31.75%" stop-color="#2b91ef"/><stop offset="33.33%" stop-color="#2797eb"/><stop offset="34.92%" stop-color="#259be8"/><stop offset="36.51%" stop-color="#23a0e5"/><stop offset="38.1%" stop-color="#20a5e3"/><stop offset="39.68%" stop-color="#1ca9df"/><stop offset="41.27%" stop-color="#18addb"/><stop offset="42.86%" stop-color="#12b1d6"/><stop offset="44.44%" stop-color="#08b5d0"/><stop offset="46.03%" stop-color="#01b8ca"/><stop offset="47.62%" stop-color="#02bac3"/><stop offset="49.21%" stop-color="#0bbdbd"/><stop offset="50.79%" stop-color="#19bfb6"/><stop offset="52.38%" stop-color="#24c1ae"/><stop offset="53.97%" stop-color="#2cc4a7"/><stop offset="55.56%" stop-color="#31c69f"/><stop offset="57.14%" stop-color="#37c897"/><stop offset="58.73%" stop-color="#3fca8e"/><stop offset="60.32%" stop-color="#4acb84"/><stop offset="61.9%" stop-color="#57cc7a"/><stop offset="63.49%" stop-color="#64cd6f"/><stop offset="65.08%" stop-color="#72cd64"/><stop offset="66.67%" stop-color="#81cc59"/><stop offset="68.25%" stop-color="#8fcb4e"/><stop offset="69.84%" stop-color="#9dc943"/><stop offset="71.43%" stop-color="#abc739"/><stop offset="73.02%" stop-color="#b9c431"/><stop offset="74.6%" stop-color="#c5c22a"/><stop offset="76.19%" stop-color="#d1bf27"/><stop offset="77.78%" stop-color="#dcbd29"/><stop offset="79.37%" stop-color="#e6bb2d"/><stop offset="80.95%" stop-color="#f0ba36"/><stop offset="82.54%" stop-color="#f8ba3d"/><stop offset="84.13%" stop-color="#febe3c"/><stop offset="85.71%" stop-color="#fec338"/><stop offset="87.3%" stop-color="#fec934"/><stop offset="88.89%" stop-color="#fccf30"/><stop offset="90.48%" stop-color="#fad62d"/><stop offset="92.06%" stop-color="#f7dc2a"/><stop offset="93.65%" stop-color="#f5e327"/><stop offset="95.24%" stop-color="#f5e924"/><stop offset="96.83%" stop-color="#f6ef20"/><stop offset="98.41%" stop-color="#f7f51b"/><stop offset="100%" stop-color="#f9fb15"/></linearGradient></defs>
<rect x="1761.6" y="50" width="40.4" height="628.9" fill="url(#cbg)"/>
<rect x="1761.6" y="50" width="40.4" height="628.9" fill="none" stroke="#1a1a1a" stroke-width="1.8"/>
<line x1="1802" y1="678.9" x2="1808.6" y2="678.9" stroke="#1a1a1a" stroke-width="1.8" />
<text transform="translate(1822 689.1) scale(1.025 1)" font-size="24.6" text-anchor="start" font-weight="normal" >0</text>
<line x1="1802" y1="553.12" x2="1808.6" y2="553.12" stroke="#1a1a1a" stroke-width="1.8" />
<text transform="translate(1822 559.9) scale(1.025 1)" font-size="24.6" text-anchor="start" font-weight="normal" >100</text>
<line x1="1802" y1="427.34" x2="1808.6" y2="427.34" stroke="#1a1a1a" stroke-width="1.8" />
<text transform="translate(1822 435.2) scale(1.025 1)" font-size="24.6" text-anchor="start" font-weight="normal" >200</text>
<line x1="1802" y1="301.56" x2="1808.6" y2="301.56" stroke="#1a1a1a" stroke-width="1.8" />
<text transform="translate(1822 309.1) scale(1.025 1)" font-size="24.6" text-anchor="start" font-weight="normal" >300</text>
<line x1="1802" y1="175.78" x2="1808.6" y2="175.78" stroke="#1a1a1a" stroke-width="1.8" />
<text transform="translate(1822 185.9) scale(1.025 1)" font-size="24.6" text-anchor="start" font-weight="normal" >400</text>
<line x1="1802" y1="50" x2="1808.6" y2="50" stroke="#1a1a1a" stroke-width="1.8" />
<text transform="translate(1822 60.1) scale(1.025 1)" font-size="24.6" text-anchor="start" font-weight="normal" >500</text>
<text transform="translate(1910.5 364.45) rotate(-90) scale(1.060 1)" font-size="23.5" text-anchor="middle" font-weight="normal" >Secondary soliton power (a.u.)</text>
</svg>
</body>
</html>
